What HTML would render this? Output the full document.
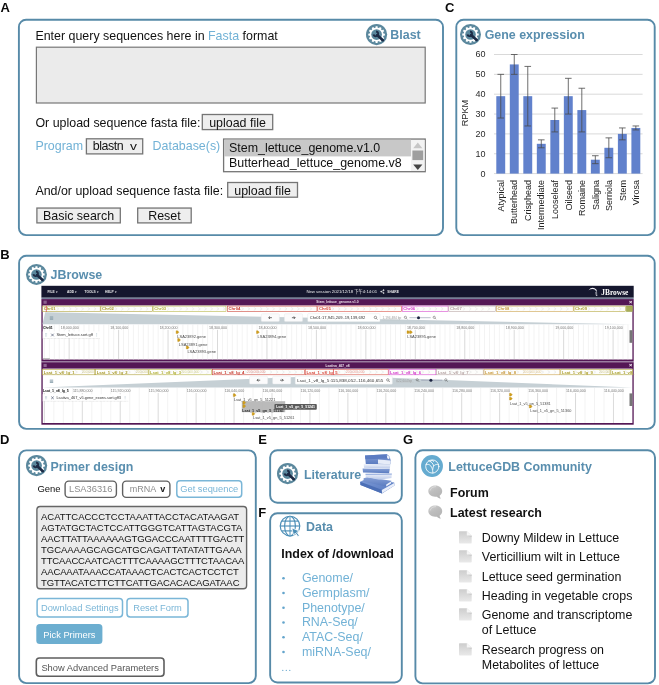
<!DOCTYPE html>
<html><head><meta charset="utf-8"><title>LettuceGDB</title>
<style>
html,body{margin:0;padding:0;background:#fff;}
body{filter:blur(0.35px);width:659px;height:685px;position:relative;overflow:hidden;font-family:"Liberation Sans",sans-serif;}
.t{position:absolute;white-space:nowrap;line-height:1;}
.b{position:absolute;}
.tw{position:absolute;left:0;top:0;width:659px;height:685px;will-change:transform;}
</style></head><body>
<svg class="b" style="left:0;top:0" width="659" height="685" viewBox="0 0 659 685">
<rect x="18.90" y="19.75" width="424.10" height="215.35" rx="7.2" fill="#fff" stroke="#578aa8" stroke-width="1.9"/>
<rect x="456.30" y="19.80" width="198.40" height="215.30" rx="7.2" fill="#fff" stroke="#578aa8" stroke-width="1.9"/>
<rect x="19.10" y="255.70" width="635.60" height="173.20" rx="7.2" fill="#fff" stroke="#578aa8" stroke-width="1.9"/>
<rect x="19.10" y="450.40" width="236.70" height="232.70" rx="7.2" fill="#fff" stroke="#578aa8" stroke-width="1.9"/>
<rect x="270.15" y="450.30" width="131.65" height="52.50" rx="7.2" fill="#fff" stroke="#578aa8" stroke-width="1.9"/>
<rect x="270.15" y="513.30" width="131.65" height="169.20" rx="7.2" fill="#fff" stroke="#578aa8" stroke-width="1.9"/>
<rect x="415.40" y="450.30" width="239.60" height="233.10" rx="7.2" fill="#fff" stroke="#578aa8" stroke-width="1.9"/>
<rect x="36.40" y="47.20" width="388.80" height="55.80" rx="0" fill="#ebebeb" stroke="#777" stroke-width="1.2" />
<rect x="202.30" y="114.50" width="70.40" height="15.10" rx="0" fill="#eeeeee" stroke="#757575" stroke-width="1.3" />
<rect x="86.40" y="138.80" width="56.30" height="15.10" rx="0" fill="#eeeeee" stroke="#757575" stroke-width="1.3" />
<rect x="223.60" y="139.05" width="201.60" height="32.65" rx="0" fill="#fff" stroke="#757575" stroke-width="1.3" />
<rect x="224.20" y="139.70" width="186.80" height="16.70" rx="0" fill="#c8c8c8" />
<rect x="227.70" y="182.50" width="69.80" height="14.70" rx="0" fill="#eeeeee" stroke="#757575" stroke-width="1.3" />
<rect x="36.90" y="208.05" width="83.40" height="14.85" rx="0" fill="#eeeeee" stroke="#757575" stroke-width="1.3" />
<rect x="137.70" y="208.05" width="53.50" height="14.85" rx="0" fill="#eeeeee" stroke="#757575" stroke-width="1.3" />
<line x1="494.0" y1="173.60" x2="642.6" y2="173.60" stroke="#cfcfcf" stroke-width="0.8"/>
<line x1="494.0" y1="153.75" x2="642.6" y2="153.75" stroke="#cfcfcf" stroke-width="0.8"/>
<line x1="494.0" y1="133.90" x2="642.6" y2="133.90" stroke="#cfcfcf" stroke-width="0.8"/>
<line x1="494.0" y1="114.05" x2="642.6" y2="114.05" stroke="#cfcfcf" stroke-width="0.8"/>
<line x1="494.0" y1="94.20" x2="642.6" y2="94.20" stroke="#cfcfcf" stroke-width="0.8"/>
<line x1="494.0" y1="74.35" x2="642.6" y2="74.35" stroke="#cfcfcf" stroke-width="0.8"/>
<line x1="494.0" y1="54.50" x2="642.6" y2="54.50" stroke="#cfcfcf" stroke-width="0.8"/>
<rect x="496.30" y="96.18" width="8.9" height="77.42" fill="#6181cc"/>
<rect x="509.81" y="64.42" width="8.9" height="109.18" fill="#6181cc"/>
<rect x="523.32" y="96.18" width="8.9" height="77.42" fill="#6181cc"/>
<rect x="536.83" y="143.82" width="8.9" height="29.78" fill="#6181cc"/>
<rect x="550.34" y="120.00" width="8.9" height="53.60" fill="#6181cc"/>
<rect x="563.85" y="96.18" width="8.9" height="77.42" fill="#6181cc"/>
<rect x="577.36" y="110.08" width="8.9" height="63.52" fill="#6181cc"/>
<rect x="590.87" y="159.70" width="8.9" height="13.90" fill="#6181cc"/>
<rect x="604.38" y="147.79" width="8.9" height="25.80" fill="#6181cc"/>
<rect x="617.89" y="133.90" width="8.9" height="39.70" fill="#6181cc"/>
<rect x="631.40" y="127.94" width="8.9" height="45.66" fill="#6181cc"/>
<path d="M500.75,118.02V74.35M497.45,118.02h6.6M497.45,74.35h6.6" stroke="#4a4a4a" stroke-width="0.8" fill="none"/>
<path d="M514.26,74.35V54.50M510.96,74.35h6.6M510.96,54.50h6.6" stroke="#4a4a4a" stroke-width="0.8" fill="none"/>
<path d="M527.77,125.96V66.41M524.47,125.96h6.6M524.47,66.41h6.6" stroke="#4a4a4a" stroke-width="0.8" fill="none"/>
<path d="M541.28,147.79V139.85M537.98,147.79h6.6M537.98,139.85h6.6" stroke="#4a4a4a" stroke-width="0.8" fill="none"/>
<path d="M554.79,131.91V108.09M551.49,131.91h6.6M551.49,108.09h6.6" stroke="#4a4a4a" stroke-width="0.8" fill="none"/>
<path d="M568.30,114.05V78.32M565.00,114.05h6.6M565.00,78.32h6.6" stroke="#4a4a4a" stroke-width="0.8" fill="none"/>
<path d="M581.81,131.91V88.24M578.51,131.91h6.6M578.51,88.24h6.6" stroke="#4a4a4a" stroke-width="0.8" fill="none"/>
<path d="M595.32,163.67V155.73M592.02,163.67h6.6M592.02,155.73h6.6" stroke="#4a4a4a" stroke-width="0.8" fill="none"/>
<path d="M608.83,157.72V137.87M605.53,157.72h6.6M605.53,137.87h6.6" stroke="#4a4a4a" stroke-width="0.8" fill="none"/>
<path d="M622.34,139.85V127.94M619.04,139.85h6.6M619.04,127.94h6.6" stroke="#4a4a4a" stroke-width="0.8" fill="none"/>
<path d="M635.85,129.93V125.96M632.55,129.93h6.6M632.55,125.96h6.6" stroke="#4a4a4a" stroke-width="0.8" fill="none"/>
<rect x="65.10" y="481.10" width="51.30" height="16.30" rx="3.6" fill="#fff" stroke="#606060" stroke-width="1.4" />
<rect x="122.60" y="481.10" width="47.30" height="16.30" rx="3.6" fill="#fff" stroke="#606060" stroke-width="1.4" />
<rect x="176.80" y="480.80" width="64.90" height="16.50" rx="3.2" fill="#fff" stroke="#7ab6d7" stroke-width="1.5" />
<rect x="36.90" y="506.50" width="209.70" height="82.30" rx="3.2" fill="#ebebeb" stroke="#666" stroke-width="1.4" />
<rect x="37.10" y="598.40" width="85.40" height="18.60" rx="3.2" fill="#fff" stroke="#7ab6d7" stroke-width="1.5" />
<rect x="127.00" y="598.40" width="61.00" height="18.60" rx="3.2" fill="#fff" stroke="#7ab6d7" stroke-width="1.5" />
<rect x="36.30" y="623.90" width="66.10" height="20.20" rx="3.6" fill="#6caed0" />
<rect x="36.30" y="658.00" width="127.70" height="18.20" rx="3.2" fill="#fff" stroke="#5e5e5e" stroke-width="1.6" />
<circle cx="283.5" cy="578.20" r="1.3" fill="#64a5cc"/>
<circle cx="283.5" cy="592.95" r="1.3" fill="#64a5cc"/>
<circle cx="283.5" cy="607.70" r="1.3" fill="#64a5cc"/>
<circle cx="283.5" cy="622.45" r="1.3" fill="#64a5cc"/>
<circle cx="283.5" cy="637.20" r="1.3" fill="#64a5cc"/>
<circle cx="283.5" cy="651.95" r="1.3" fill="#64a5cc"/>
<circle cx="282.80" cy="670.4" r="0.6" fill="#64a5cc"/>
<circle cx="286.30" cy="670.4" r="0.6" fill="#64a5cc"/>
<circle cx="289.80" cy="670.4" r="0.6" fill="#64a5cc"/>
</svg>
<div class="tw"><svg class="b" style="left:0;top:0" width="659" height="440" viewBox="0 0 659 440" font-family="Liberation Sans, sans-serif">
<rect x="41.4" y="285.8" width="592.3000000000001" height="138.8" fill="#fff"/>
<rect x="41.4" y="285.8" width="592.3000000000001" height="11.899999999999977" fill="#15172e"/>
<rect x="41.4" y="297.7" width="592.3000000000001" height="1.5" fill="#76819a"/>
<text x="47.5" y="292.9" font-size="3.3" fill="#fff" text-anchor="start" font-weight="bold" opacity="0.9">FILE ▾</text>
<text x="67" y="292.9" font-size="3.3" fill="#fff" text-anchor="start" font-weight="bold" opacity="0.9">ADD ▾</text>
<text x="84.5" y="292.9" font-size="3.3" fill="#fff" text-anchor="start" font-weight="bold" opacity="0.9">TOOLS ▾</text>
<text x="105" y="292.9" font-size="3.3" fill="#fff" text-anchor="start" font-weight="bold" opacity="0.9">HELP ▾</text>
<text x="306.4" y="292.9" font-size="4.2" fill="#fff" text-anchor="start" font-weight="normal" textLength="70.7" lengthAdjust="spacingAndGlyphs" opacity="0.92" font-family="Liberation Sans, Noto Sans CJK SC, sans-serif">New session 2021/12/18 下午4:14:01</text>
<g stroke="#fff" stroke-width="0.45" fill="#fff" opacity="0.9"><circle cx="383.6" cy="290.2" r="0.6"/><circle cx="381.2" cy="291.6" r="0.6"/><circle cx="383.6" cy="293" r="0.6"/><path d="M383.6,290.2L381.2,291.6L383.6,293" fill="none"/></g>
<text x="387.30" y="292.80" font-size="3.3" font-weight="bold" fill="#fff" opacity="0.9">SHARE</text>
<path d="M588.6,290.2 q2.4,-3.2 6,-2 q2.2,0.9 2.5,3.4 l-1.1,0 q-0.4,-1.8 -1.9,-2.3 q-2.6,-0.7 -5.5,0.9 z M595.2,292.4 h1.9 v0.75 h-1.9z M595.5,293.7 h1.7 v0.75 h-1.7z M595.9,295 h1.4 v0.7 h-1.4z" fill="#eeeef4"/>
<text x="601.3" y="294.5" font-size="7.4" fill="#fff" text-anchor="start" font-weight="bold" font-family="Liberation Serif, serif" textLength="27" lengthAdjust="spacingAndGlyphs" opacity="1">JBrowse</text>
<rect x="41.4" y="299.1" width="592.3000000000001" height="62.099999999999966" fill="#541755"/>
<rect x="42.699999999999996" y="305.40000000000003" width="589.7" height="54.099999999999966" fill="#fff"/>
<path d="M43.5,301.20000000000005h3.2M43.5,302.20000000000005h3.2M43.5,303.20000000000005h3.2" stroke="#bfa9c4" stroke-width="0.6"/>
<text x="316.37" y="303.40" font-size="3.3" font-weight="bold" fill="#e9dfe8">Stem_lettuce_genome.v1.0</text>
<text x="628.96" y="304.00" font-size="5.6" font-weight="bold" fill="#fff">×</text>
<rect x="42.6" y="306.1" width="57.6" height="5.5" fill="#fdfdfb" stroke="#a99b2c" stroke-width="0.55"/>
<path d="M56.6,307.3l2.2,1.55l-2.2,1.55" fill="none" stroke="#e2e2e2" stroke-width="0.6"/>
<path d="M62.8,307.3l2.2,1.55l-2.2,1.55" fill="none" stroke="#e2e2e2" stroke-width="0.6"/>
<path d="M69.0,307.3l2.2,1.55l-2.2,1.55" fill="none" stroke="#e2e2e2" stroke-width="0.6"/>
<path d="M75.2,307.3l2.2,1.55l-2.2,1.55" fill="none" stroke="#e2e2e2" stroke-width="0.6"/>
<path d="M81.4,307.3l2.2,1.55l-2.2,1.55" fill="none" stroke="#e2e2e2" stroke-width="0.6"/>
<path d="M87.6,307.3l2.2,1.55l-2.2,1.55" fill="none" stroke="#e2e2e2" stroke-width="0.6"/>
<path d="M93.8,307.3l2.2,1.55l-2.2,1.55" fill="none" stroke="#e2e2e2" stroke-width="0.6"/>
<text x="43.70" y="310.30" font-size="4.2" font-weight="bold" fill="#a99b2c">Chr01</text>
<rect x="100.9" y="306.1" width="51.5" height="5.5" fill="#fdfdfb" stroke="#a99b2c" stroke-width="0.55"/>
<path d="M114.9,307.3l2.2,1.55l-2.2,1.55" fill="none" stroke="#e2e2e2" stroke-width="0.6"/>
<path d="M121.1,307.3l2.2,1.55l-2.2,1.55" fill="none" stroke="#e2e2e2" stroke-width="0.6"/>
<path d="M127.3,307.3l2.2,1.55l-2.2,1.55" fill="none" stroke="#e2e2e2" stroke-width="0.6"/>
<path d="M133.5,307.3l2.2,1.55l-2.2,1.55" fill="none" stroke="#e2e2e2" stroke-width="0.6"/>
<path d="M139.7,307.3l2.2,1.55l-2.2,1.55" fill="none" stroke="#e2e2e2" stroke-width="0.6"/>
<path d="M145.9,307.3l2.2,1.55l-2.2,1.55" fill="none" stroke="#e2e2e2" stroke-width="0.6"/>
<text x="102.00" y="310.30" font-size="4.2" font-weight="bold" fill="#a99b2c">Chr02</text>
<rect x="153.1" y="306.1" width="72.9" height="5.5" fill="#fdfdfb" stroke="#b4b23c" stroke-width="0.55"/>
<path d="M167.1,307.3l2.2,1.55l-2.2,1.55" fill="none" stroke="#e2e2e2" stroke-width="0.6"/>
<path d="M173.3,307.3l2.2,1.55l-2.2,1.55" fill="none" stroke="#e2e2e2" stroke-width="0.6"/>
<path d="M179.5,307.3l2.2,1.55l-2.2,1.55" fill="none" stroke="#e2e2e2" stroke-width="0.6"/>
<path d="M185.7,307.3l2.2,1.55l-2.2,1.55" fill="none" stroke="#e2e2e2" stroke-width="0.6"/>
<path d="M191.9,307.3l2.2,1.55l-2.2,1.55" fill="none" stroke="#e2e2e2" stroke-width="0.6"/>
<path d="M198.1,307.3l2.2,1.55l-2.2,1.55" fill="none" stroke="#e2e2e2" stroke-width="0.6"/>
<path d="M204.3,307.3l2.2,1.55l-2.2,1.55" fill="none" stroke="#e2e2e2" stroke-width="0.6"/>
<path d="M210.5,307.3l2.2,1.55l-2.2,1.55" fill="none" stroke="#e2e2e2" stroke-width="0.6"/>
<path d="M216.7,307.3l2.2,1.55l-2.2,1.55" fill="none" stroke="#e2e2e2" stroke-width="0.6"/>
<path d="M222.9,307.3l2.2,1.55l-2.2,1.55" fill="none" stroke="#e2e2e2" stroke-width="0.6"/>
<text x="154.20" y="310.30" font-size="4.2" font-weight="bold" fill="#b4b23c">Chr03</text>
<rect x="227.4" y="306.1" width="89.6" height="5.5" fill="#fdfdfb" stroke="#c8372d" stroke-width="0.55"/>
<path d="M241.4,307.3l2.2,1.55l-2.2,1.55" fill="none" stroke="#e2e2e2" stroke-width="0.6"/>
<path d="M247.6,307.3l2.2,1.55l-2.2,1.55" fill="none" stroke="#e2e2e2" stroke-width="0.6"/>
<path d="M253.8,307.3l2.2,1.55l-2.2,1.55" fill="none" stroke="#e2e2e2" stroke-width="0.6"/>
<path d="M260.0,307.3l2.2,1.55l-2.2,1.55" fill="none" stroke="#e2e2e2" stroke-width="0.6"/>
<path d="M266.2,307.3l2.2,1.55l-2.2,1.55" fill="none" stroke="#e2e2e2" stroke-width="0.6"/>
<path d="M272.4,307.3l2.2,1.55l-2.2,1.55" fill="none" stroke="#e2e2e2" stroke-width="0.6"/>
<path d="M278.6,307.3l2.2,1.55l-2.2,1.55" fill="none" stroke="#e2e2e2" stroke-width="0.6"/>
<path d="M284.8,307.3l2.2,1.55l-2.2,1.55" fill="none" stroke="#e2e2e2" stroke-width="0.6"/>
<path d="M291.0,307.3l2.2,1.55l-2.2,1.55" fill="none" stroke="#e2e2e2" stroke-width="0.6"/>
<path d="M297.2,307.3l2.2,1.55l-2.2,1.55" fill="none" stroke="#e2e2e2" stroke-width="0.6"/>
<path d="M303.4,307.3l2.2,1.55l-2.2,1.55" fill="none" stroke="#e2e2e2" stroke-width="0.6"/>
<path d="M309.6,307.3l2.2,1.55l-2.2,1.55" fill="none" stroke="#e2e2e2" stroke-width="0.6"/>
<text x="228.50" y="310.30" font-size="4.2" font-weight="bold" fill="#c8372d">Chr04</text>
<rect x="317.8" y="306.1" width="83.59999999999997" height="5.5" fill="#fdfdfb" stroke="#d8483c" stroke-width="0.55"/>
<path d="M331.8,307.3l2.2,1.55l-2.2,1.55" fill="none" stroke="#e2e2e2" stroke-width="0.6"/>
<path d="M338.0,307.3l2.2,1.55l-2.2,1.55" fill="none" stroke="#e2e2e2" stroke-width="0.6"/>
<path d="M344.2,307.3l2.2,1.55l-2.2,1.55" fill="none" stroke="#e2e2e2" stroke-width="0.6"/>
<path d="M350.4,307.3l2.2,1.55l-2.2,1.55" fill="none" stroke="#e2e2e2" stroke-width="0.6"/>
<path d="M356.6,307.3l2.2,1.55l-2.2,1.55" fill="none" stroke="#e2e2e2" stroke-width="0.6"/>
<path d="M362.8,307.3l2.2,1.55l-2.2,1.55" fill="none" stroke="#e2e2e2" stroke-width="0.6"/>
<path d="M369.0,307.3l2.2,1.55l-2.2,1.55" fill="none" stroke="#e2e2e2" stroke-width="0.6"/>
<path d="M375.2,307.3l2.2,1.55l-2.2,1.55" fill="none" stroke="#e2e2e2" stroke-width="0.6"/>
<path d="M381.4,307.3l2.2,1.55l-2.2,1.55" fill="none" stroke="#e2e2e2" stroke-width="0.6"/>
<path d="M387.6,307.3l2.2,1.55l-2.2,1.55" fill="none" stroke="#e2e2e2" stroke-width="0.6"/>
<path d="M393.8,307.3l2.2,1.55l-2.2,1.55" fill="none" stroke="#e2e2e2" stroke-width="0.6"/>
<text x="318.90" y="310.30" font-size="4.2" font-weight="bold" fill="#d8483c">Chr05</text>
<rect x="402.2" y="306.1" width="45.900000000000034" height="5.5" fill="#fdfdfb" stroke="#d43ccc" stroke-width="0.55"/>
<path d="M416.2,307.3l2.2,1.55l-2.2,1.55" fill="none" stroke="#e2e2e2" stroke-width="0.6"/>
<path d="M422.4,307.3l2.2,1.55l-2.2,1.55" fill="none" stroke="#e2e2e2" stroke-width="0.6"/>
<path d="M428.6,307.3l2.2,1.55l-2.2,1.55" fill="none" stroke="#e2e2e2" stroke-width="0.6"/>
<path d="M434.8,307.3l2.2,1.55l-2.2,1.55" fill="none" stroke="#e2e2e2" stroke-width="0.6"/>
<path d="M441.0,307.3l2.2,1.55l-2.2,1.55" fill="none" stroke="#e2e2e2" stroke-width="0.6"/>
<text x="403.30" y="310.30" font-size="4.2" font-weight="bold" fill="#d43ccc">Chr06</text>
<rect x="448.8" y="306.1" width="46.80000000000001" height="5.5" fill="#fdfdfb" stroke="#b5a2a2" stroke-width="0.55"/>
<path d="M462.8,307.3l2.2,1.55l-2.2,1.55" fill="none" stroke="#e2e2e2" stroke-width="0.6"/>
<path d="M469.0,307.3l2.2,1.55l-2.2,1.55" fill="none" stroke="#e2e2e2" stroke-width="0.6"/>
<path d="M475.2,307.3l2.2,1.55l-2.2,1.55" fill="none" stroke="#e2e2e2" stroke-width="0.6"/>
<path d="M481.4,307.3l2.2,1.55l-2.2,1.55" fill="none" stroke="#e2e2e2" stroke-width="0.6"/>
<path d="M487.6,307.3l2.2,1.55l-2.2,1.55" fill="none" stroke="#e2e2e2" stroke-width="0.6"/>
<text x="449.90" y="310.30" font-size="4.2" font-weight="bold" fill="#b5a2a2">Chr07</text>
<rect x="496.4" y="306.1" width="76.80000000000007" height="5.5" fill="#fdfdfb" stroke="#c89a3e" stroke-width="0.55"/>
<path d="M510.4,307.3l2.2,1.55l-2.2,1.55" fill="none" stroke="#e2e2e2" stroke-width="0.6"/>
<path d="M516.6,307.3l2.2,1.55l-2.2,1.55" fill="none" stroke="#e2e2e2" stroke-width="0.6"/>
<path d="M522.8,307.3l2.2,1.55l-2.2,1.55" fill="none" stroke="#e2e2e2" stroke-width="0.6"/>
<path d="M529.0,307.3l2.2,1.55l-2.2,1.55" fill="none" stroke="#e2e2e2" stroke-width="0.6"/>
<path d="M535.2,307.3l2.2,1.55l-2.2,1.55" fill="none" stroke="#e2e2e2" stroke-width="0.6"/>
<path d="M541.4,307.3l2.2,1.55l-2.2,1.55" fill="none" stroke="#e2e2e2" stroke-width="0.6"/>
<path d="M547.6,307.3l2.2,1.55l-2.2,1.55" fill="none" stroke="#e2e2e2" stroke-width="0.6"/>
<path d="M553.8,307.3l2.2,1.55l-2.2,1.55" fill="none" stroke="#e2e2e2" stroke-width="0.6"/>
<path d="M560.0,307.3l2.2,1.55l-2.2,1.55" fill="none" stroke="#e2e2e2" stroke-width="0.6"/>
<path d="M566.2,307.3l2.2,1.55l-2.2,1.55" fill="none" stroke="#e2e2e2" stroke-width="0.6"/>
<text x="497.50" y="310.30" font-size="4.2" font-weight="bold" fill="#c89a3e">Chr08</text>
<rect x="574" y="306.1" width="51.60000000000002" height="5.5" fill="#fdfdfb" stroke="#b0a232" stroke-width="0.55"/>
<path d="M588.0,307.3l2.2,1.55l-2.2,1.55" fill="none" stroke="#e2e2e2" stroke-width="0.6"/>
<path d="M594.2,307.3l2.2,1.55l-2.2,1.55" fill="none" stroke="#e2e2e2" stroke-width="0.6"/>
<path d="M600.4,307.3l2.2,1.55l-2.2,1.55" fill="none" stroke="#e2e2e2" stroke-width="0.6"/>
<path d="M606.6,307.3l2.2,1.55l-2.2,1.55" fill="none" stroke="#e2e2e2" stroke-width="0.6"/>
<path d="M612.8,307.3l2.2,1.55l-2.2,1.55" fill="none" stroke="#e2e2e2" stroke-width="0.6"/>
<path d="M619.0,307.3l2.2,1.55l-2.2,1.55" fill="none" stroke="#e2e2e2" stroke-width="0.6"/>
<text x="575.10" y="310.30" font-size="4.2" font-weight="bold" fill="#b0a232">Chr09</text>
<polygon points="45.2,312.3 47.2,312.3 632.6,324.3 42.5,324.3" fill="#c6d0d5"/>
<path d="M49.8,316.90000000000003h3.4M49.8,318.1h3.4M49.8,319.3h3.4" stroke="#8199a6" stroke-width="0.8"/>
<rect x="626.4" y="306" width="6" height="5.5" fill="#a9ad58" stroke="#8f9a3a" stroke-width="0.5"/>
<rect x="45.9" y="305.8" width="0.6" height="6" fill="#d22"/>
<rect x="261.2" y="313.8" width="18.2" height="7.8" rx="1" fill="#fbfbfc" stroke="#e3e6e8" stroke-width="0.4"/>
<path d="M271.90000000000003,317.7h-3.2M270.0,316.4l-1.3,1.3l1.3,1.3" stroke="#333" stroke-width="0.7" fill="none"/>
<rect x="284.4" y="313.8" width="18.2" height="7.8" rx="1" fill="#fbfbfc" stroke="#e3e6e8" stroke-width="0.4"/>
<path d="M291.9,317.7h3.2M293.8,316.4l1.3,1.3l-1.3,1.3" stroke="#333" stroke-width="0.7" fill="none"/>
<rect x="307.7" y="313.7" width="72.30000000000001" height="8" rx="0.8" fill="#fff" stroke="#dfe3e6" stroke-width="0.4"/>
<text x="309.70" y="319.10" font-size="4.1" fill="#333">Chr01:17,945,209..19,139,692</text>
<circle cx="375.4" cy="317.4" r="1.2" fill="none" stroke="#444" stroke-width="0.5"/><path d="M376.2,318.3l1.2,1.2" stroke="#444" stroke-width="0.6"/>
<text x="382.60" y="319.10" font-size="3.2" fill="#9a9a9a">1,194,484 bp</text>
<path d="M382.6,319.8h17.5" stroke="#bbb" stroke-width="0.3"/>
<circle cx="405.4" cy="317.3" r="1.1" fill="none" stroke="#555" stroke-width="0.5"/><path d="M406.2,318.09999999999997l1.1,1.1" stroke="#555" stroke-width="0.55"/>
<circle cx="434.2" cy="317.3" r="1.1" fill="none" stroke="#555" stroke-width="0.5"/><path d="M435.0,318.09999999999997l1.1,1.1" stroke="#555" stroke-width="0.55"/>
<path d="M409.4,317.7H430.7" stroke="#8b93a8" stroke-width="0.6"/>
<circle cx="418.5" cy="317.7" r="1.5" fill="#1b2340"/>
<line x1="44.43" y1="324.6" x2="44.43" y2="359.6" stroke="#e7e7e7" stroke-width="0.5"/>
<line x1="49.37" y1="324.6" x2="49.37" y2="359.6" stroke="#e7e7e7" stroke-width="0.5"/>
<line x1="54.32" y1="324.6" x2="54.32" y2="359.6" stroke="#e7e7e7" stroke-width="0.5"/>
<line x1="59.26" y1="324.6" x2="59.26" y2="359.6" stroke="#e7e7e7" stroke-width="0.5"/>
<line x1="64.21" y1="324.6" x2="64.21" y2="359.6" stroke="#e7e7e7" stroke-width="0.5"/>
<line x1="69.15" y1="329.8" x2="69.15" y2="359.6" stroke="#b4b4b4" stroke-width="0.5"/>
<line x1="74.09" y1="324.6" x2="74.09" y2="359.6" stroke="#e7e7e7" stroke-width="0.5"/>
<line x1="79.04" y1="324.6" x2="79.04" y2="359.6" stroke="#e7e7e7" stroke-width="0.5"/>
<line x1="83.98" y1="324.6" x2="83.98" y2="359.6" stroke="#e7e7e7" stroke-width="0.5"/>
<line x1="88.93" y1="324.6" x2="88.93" y2="359.6" stroke="#e7e7e7" stroke-width="0.5"/>
<line x1="93.87" y1="324.6" x2="93.87" y2="359.6" stroke="#e7e7e7" stroke-width="0.5"/>
<line x1="98.82" y1="324.6" x2="98.82" y2="359.6" stroke="#e7e7e7" stroke-width="0.5"/>
<line x1="103.76" y1="324.6" x2="103.76" y2="359.6" stroke="#e7e7e7" stroke-width="0.5"/>
<line x1="108.71" y1="324.6" x2="108.71" y2="359.6" stroke="#e7e7e7" stroke-width="0.5"/>
<line x1="113.65" y1="324.6" x2="113.65" y2="359.6" stroke="#e7e7e7" stroke-width="0.5"/>
<line x1="118.60" y1="329.8" x2="118.60" y2="359.6" stroke="#b4b4b4" stroke-width="0.5"/>
<line x1="123.54" y1="324.6" x2="123.54" y2="359.6" stroke="#e7e7e7" stroke-width="0.5"/>
<line x1="128.49" y1="324.6" x2="128.49" y2="359.6" stroke="#e7e7e7" stroke-width="0.5"/>
<line x1="133.43" y1="324.6" x2="133.43" y2="359.6" stroke="#e7e7e7" stroke-width="0.5"/>
<line x1="138.38" y1="324.6" x2="138.38" y2="359.6" stroke="#e7e7e7" stroke-width="0.5"/>
<line x1="143.32" y1="324.6" x2="143.32" y2="359.6" stroke="#e7e7e7" stroke-width="0.5"/>
<line x1="148.27" y1="324.6" x2="148.27" y2="359.6" stroke="#e7e7e7" stroke-width="0.5"/>
<line x1="153.21" y1="324.6" x2="153.21" y2="359.6" stroke="#e7e7e7" stroke-width="0.5"/>
<line x1="158.16" y1="324.6" x2="158.16" y2="359.6" stroke="#e7e7e7" stroke-width="0.5"/>
<line x1="163.10" y1="324.6" x2="163.10" y2="359.6" stroke="#e7e7e7" stroke-width="0.5"/>
<line x1="168.05" y1="329.8" x2="168.05" y2="359.6" stroke="#b4b4b4" stroke-width="0.5"/>
<line x1="172.99" y1="324.6" x2="172.99" y2="359.6" stroke="#e7e7e7" stroke-width="0.5"/>
<line x1="177.94" y1="324.6" x2="177.94" y2="359.6" stroke="#e7e7e7" stroke-width="0.5"/>
<line x1="182.88" y1="324.6" x2="182.88" y2="359.6" stroke="#e7e7e7" stroke-width="0.5"/>
<line x1="187.83" y1="324.6" x2="187.83" y2="359.6" stroke="#e7e7e7" stroke-width="0.5"/>
<line x1="192.77" y1="324.6" x2="192.77" y2="359.6" stroke="#e7e7e7" stroke-width="0.5"/>
<line x1="197.72" y1="324.6" x2="197.72" y2="359.6" stroke="#e7e7e7" stroke-width="0.5"/>
<line x1="202.66" y1="324.6" x2="202.66" y2="359.6" stroke="#e7e7e7" stroke-width="0.5"/>
<line x1="207.61" y1="324.6" x2="207.61" y2="359.6" stroke="#e7e7e7" stroke-width="0.5"/>
<line x1="212.55" y1="324.6" x2="212.55" y2="359.6" stroke="#e7e7e7" stroke-width="0.5"/>
<line x1="217.50" y1="329.8" x2="217.50" y2="359.6" stroke="#b4b4b4" stroke-width="0.5"/>
<line x1="222.44" y1="324.6" x2="222.44" y2="359.6" stroke="#e7e7e7" stroke-width="0.5"/>
<line x1="227.39" y1="324.6" x2="227.39" y2="359.6" stroke="#e7e7e7" stroke-width="0.5"/>
<line x1="232.33" y1="324.6" x2="232.33" y2="359.6" stroke="#e7e7e7" stroke-width="0.5"/>
<line x1="237.28" y1="324.6" x2="237.28" y2="359.6" stroke="#e7e7e7" stroke-width="0.5"/>
<line x1="242.22" y1="324.6" x2="242.22" y2="359.6" stroke="#e7e7e7" stroke-width="0.5"/>
<line x1="247.17" y1="324.6" x2="247.17" y2="359.6" stroke="#e7e7e7" stroke-width="0.5"/>
<line x1="252.11" y1="324.6" x2="252.11" y2="359.6" stroke="#e7e7e7" stroke-width="0.5"/>
<line x1="257.06" y1="324.6" x2="257.06" y2="359.6" stroke="#e7e7e7" stroke-width="0.5"/>
<line x1="262.00" y1="324.6" x2="262.00" y2="359.6" stroke="#e7e7e7" stroke-width="0.5"/>
<line x1="266.95" y1="329.8" x2="266.95" y2="359.6" stroke="#b4b4b4" stroke-width="0.5"/>
<line x1="271.89" y1="324.6" x2="271.89" y2="359.6" stroke="#e7e7e7" stroke-width="0.5"/>
<line x1="276.84" y1="324.6" x2="276.84" y2="359.6" stroke="#e7e7e7" stroke-width="0.5"/>
<line x1="281.78" y1="324.6" x2="281.78" y2="359.6" stroke="#e7e7e7" stroke-width="0.5"/>
<line x1="286.73" y1="324.6" x2="286.73" y2="359.6" stroke="#e7e7e7" stroke-width="0.5"/>
<line x1="291.67" y1="324.6" x2="291.67" y2="359.6" stroke="#e7e7e7" stroke-width="0.5"/>
<line x1="296.62" y1="324.6" x2="296.62" y2="359.6" stroke="#e7e7e7" stroke-width="0.5"/>
<line x1="301.56" y1="324.6" x2="301.56" y2="359.6" stroke="#e7e7e7" stroke-width="0.5"/>
<line x1="306.51" y1="324.6" x2="306.51" y2="359.6" stroke="#e7e7e7" stroke-width="0.5"/>
<line x1="311.45" y1="324.6" x2="311.45" y2="359.6" stroke="#e7e7e7" stroke-width="0.5"/>
<line x1="316.40" y1="329.8" x2="316.40" y2="359.6" stroke="#b4b4b4" stroke-width="0.5"/>
<line x1="321.34" y1="324.6" x2="321.34" y2="359.6" stroke="#e7e7e7" stroke-width="0.5"/>
<line x1="326.29" y1="324.6" x2="326.29" y2="359.6" stroke="#e7e7e7" stroke-width="0.5"/>
<line x1="331.23" y1="324.6" x2="331.23" y2="359.6" stroke="#e7e7e7" stroke-width="0.5"/>
<line x1="336.18" y1="324.6" x2="336.18" y2="359.6" stroke="#e7e7e7" stroke-width="0.5"/>
<line x1="341.12" y1="324.6" x2="341.12" y2="359.6" stroke="#e7e7e7" stroke-width="0.5"/>
<line x1="346.07" y1="324.6" x2="346.07" y2="359.6" stroke="#e7e7e7" stroke-width="0.5"/>
<line x1="351.01" y1="324.6" x2="351.01" y2="359.6" stroke="#e7e7e7" stroke-width="0.5"/>
<line x1="355.96" y1="324.6" x2="355.96" y2="359.6" stroke="#e7e7e7" stroke-width="0.5"/>
<line x1="360.90" y1="324.6" x2="360.90" y2="359.6" stroke="#e7e7e7" stroke-width="0.5"/>
<line x1="365.85" y1="329.8" x2="365.85" y2="359.6" stroke="#b4b4b4" stroke-width="0.5"/>
<line x1="370.79" y1="324.6" x2="370.79" y2="359.6" stroke="#e7e7e7" stroke-width="0.5"/>
<line x1="375.74" y1="324.6" x2="375.74" y2="359.6" stroke="#e7e7e7" stroke-width="0.5"/>
<line x1="380.68" y1="324.6" x2="380.68" y2="359.6" stroke="#e7e7e7" stroke-width="0.5"/>
<line x1="385.63" y1="324.6" x2="385.63" y2="359.6" stroke="#e7e7e7" stroke-width="0.5"/>
<line x1="390.57" y1="324.6" x2="390.57" y2="359.6" stroke="#e7e7e7" stroke-width="0.5"/>
<line x1="395.52" y1="324.6" x2="395.52" y2="359.6" stroke="#e7e7e7" stroke-width="0.5"/>
<line x1="400.46" y1="324.6" x2="400.46" y2="359.6" stroke="#e7e7e7" stroke-width="0.5"/>
<line x1="405.41" y1="324.6" x2="405.41" y2="359.6" stroke="#e7e7e7" stroke-width="0.5"/>
<line x1="410.35" y1="324.6" x2="410.35" y2="359.6" stroke="#e7e7e7" stroke-width="0.5"/>
<line x1="415.30" y1="329.8" x2="415.30" y2="359.6" stroke="#b4b4b4" stroke-width="0.5"/>
<line x1="420.24" y1="324.6" x2="420.24" y2="359.6" stroke="#e7e7e7" stroke-width="0.5"/>
<line x1="425.19" y1="324.6" x2="425.19" y2="359.6" stroke="#e7e7e7" stroke-width="0.5"/>
<line x1="430.13" y1="324.6" x2="430.13" y2="359.6" stroke="#e7e7e7" stroke-width="0.5"/>
<line x1="435.08" y1="324.6" x2="435.08" y2="359.6" stroke="#e7e7e7" stroke-width="0.5"/>
<line x1="440.02" y1="324.6" x2="440.02" y2="359.6" stroke="#e7e7e7" stroke-width="0.5"/>
<line x1="444.97" y1="324.6" x2="444.97" y2="359.6" stroke="#e7e7e7" stroke-width="0.5"/>
<line x1="449.91" y1="324.6" x2="449.91" y2="359.6" stroke="#e7e7e7" stroke-width="0.5"/>
<line x1="454.86" y1="324.6" x2="454.86" y2="359.6" stroke="#e7e7e7" stroke-width="0.5"/>
<line x1="459.80" y1="324.6" x2="459.80" y2="359.6" stroke="#e7e7e7" stroke-width="0.5"/>
<line x1="464.75" y1="329.8" x2="464.75" y2="359.6" stroke="#b4b4b4" stroke-width="0.5"/>
<line x1="469.69" y1="324.6" x2="469.69" y2="359.6" stroke="#e7e7e7" stroke-width="0.5"/>
<line x1="474.64" y1="324.6" x2="474.64" y2="359.6" stroke="#e7e7e7" stroke-width="0.5"/>
<line x1="479.58" y1="324.6" x2="479.58" y2="359.6" stroke="#e7e7e7" stroke-width="0.5"/>
<line x1="484.53" y1="324.6" x2="484.53" y2="359.6" stroke="#e7e7e7" stroke-width="0.5"/>
<line x1="489.47" y1="324.6" x2="489.47" y2="359.6" stroke="#e7e7e7" stroke-width="0.5"/>
<line x1="494.42" y1="324.6" x2="494.42" y2="359.6" stroke="#e7e7e7" stroke-width="0.5"/>
<line x1="499.36" y1="324.6" x2="499.36" y2="359.6" stroke="#e7e7e7" stroke-width="0.5"/>
<line x1="504.31" y1="324.6" x2="504.31" y2="359.6" stroke="#e7e7e7" stroke-width="0.5"/>
<line x1="509.25" y1="324.6" x2="509.25" y2="359.6" stroke="#e7e7e7" stroke-width="0.5"/>
<line x1="514.20" y1="329.8" x2="514.20" y2="359.6" stroke="#b4b4b4" stroke-width="0.5"/>
<line x1="519.14" y1="324.6" x2="519.14" y2="359.6" stroke="#e7e7e7" stroke-width="0.5"/>
<line x1="524.09" y1="324.6" x2="524.09" y2="359.6" stroke="#e7e7e7" stroke-width="0.5"/>
<line x1="529.03" y1="324.6" x2="529.03" y2="359.6" stroke="#e7e7e7" stroke-width="0.5"/>
<line x1="533.98" y1="324.6" x2="533.98" y2="359.6" stroke="#e7e7e7" stroke-width="0.5"/>
<line x1="538.92" y1="324.6" x2="538.92" y2="359.6" stroke="#e7e7e7" stroke-width="0.5"/>
<line x1="543.87" y1="324.6" x2="543.87" y2="359.6" stroke="#e7e7e7" stroke-width="0.5"/>
<line x1="548.81" y1="324.6" x2="548.81" y2="359.6" stroke="#e7e7e7" stroke-width="0.5"/>
<line x1="553.76" y1="324.6" x2="553.76" y2="359.6" stroke="#e7e7e7" stroke-width="0.5"/>
<line x1="558.70" y1="324.6" x2="558.70" y2="359.6" stroke="#e7e7e7" stroke-width="0.5"/>
<line x1="563.65" y1="329.8" x2="563.65" y2="359.6" stroke="#b4b4b4" stroke-width="0.5"/>
<line x1="568.60" y1="324.6" x2="568.60" y2="359.6" stroke="#e7e7e7" stroke-width="0.5"/>
<line x1="573.54" y1="324.6" x2="573.54" y2="359.6" stroke="#e7e7e7" stroke-width="0.5"/>
<line x1="578.49" y1="324.6" x2="578.49" y2="359.6" stroke="#e7e7e7" stroke-width="0.5"/>
<line x1="583.43" y1="324.6" x2="583.43" y2="359.6" stroke="#e7e7e7" stroke-width="0.5"/>
<line x1="588.38" y1="324.6" x2="588.38" y2="359.6" stroke="#e7e7e7" stroke-width="0.5"/>
<line x1="593.32" y1="324.6" x2="593.32" y2="359.6" stroke="#e7e7e7" stroke-width="0.5"/>
<line x1="598.27" y1="324.6" x2="598.27" y2="359.6" stroke="#e7e7e7" stroke-width="0.5"/>
<line x1="603.21" y1="324.6" x2="603.21" y2="359.6" stroke="#e7e7e7" stroke-width="0.5"/>
<line x1="608.16" y1="324.6" x2="608.16" y2="359.6" stroke="#e7e7e7" stroke-width="0.5"/>
<line x1="613.10" y1="329.8" x2="613.10" y2="359.6" stroke="#b4b4b4" stroke-width="0.5"/>
<line x1="618.05" y1="324.6" x2="618.05" y2="359.6" stroke="#e7e7e7" stroke-width="0.5"/>
<line x1="622.99" y1="324.6" x2="622.99" y2="359.6" stroke="#e7e7e7" stroke-width="0.5"/>
<line x1="627.94" y1="324.6" x2="627.94" y2="359.6" stroke="#e7e7e7" stroke-width="0.5"/>
<text x="60.74" y="329.00" font-size="3.6" fill="#777">18,000,000</text>
<text x="110.19" y="329.00" font-size="3.6" fill="#777">18,100,000</text>
<text x="159.64" y="329.00" font-size="3.6" fill="#777">18,200,000</text>
<text x="209.09" y="329.00" font-size="3.6" fill="#777">18,300,000</text>
<text x="258.54" y="329.00" font-size="3.6" fill="#777">18,400,000</text>
<text x="307.99" y="329.00" font-size="3.6" fill="#777">18,500,000</text>
<text x="357.44" y="329.00" font-size="3.6" fill="#777">18,600,000</text>
<text x="406.89" y="329.00" font-size="3.6" fill="#777">18,700,000</text>
<text x="456.34" y="329.00" font-size="3.6" fill="#777">18,800,000</text>
<text x="505.79" y="329.00" font-size="3.6" fill="#777">18,900,000</text>
<text x="555.24" y="329.00" font-size="3.6" fill="#777">19,000,000</text>
<text x="604.69" y="329.00" font-size="3.6" fill="#777">19,100,000</text>
<text x="42.90" y="329.00" font-size="3.5" font-weight="bold" fill="#111">Chr01</text>
<rect x="629.5" y="330.20000000000005" width="2.9" height="12.6" fill="#767676"/>
<rect x="42.699999999999996" y="331.4" width="57.4" height="7" fill="#fff" opacity="0.93"/>
<path d="M45.5,333.3v3.4M46.6,333.3v3.4" stroke="#9db3bf" stroke-width="0.6" stroke-dasharray="0.7,0.5"/>
<path d="M51.2,333.7l2.6,2.6M51.2,336.3l2.6,-2.6" stroke="#3a4560" stroke-width="0.6"/>
<text x="56.40" y="336.30" font-size="3.9" fill="#333" textLength="36.4" lengthAdjust="spacingAndGlyphs">Stem_lettuce.sort.gff</text>
<path d="M96.6,333.3v3.4" stroke="#9db3bf" stroke-width="0.6" stroke-dasharray="0.7,0.5"/>
<path d="M42.699999999999996,338.5H99.8" stroke="#c4c4c4" stroke-width="0.45" stroke-dasharray="0.8,0.6"/>
<path d="M176.10,330.80h1.5l1.3,1.4l-1.3,1.4h-1.5z" fill="#cf9f1e" stroke="#c08c14" stroke-width="0.35" stroke-linejoin="round"/>
<text x="177.30" y="337.60" font-size="4" fill="#4a4a4a">LSA23892.gene</text>
<path d="M177.70,338.60h1.5l1.3,1.4l-1.3,1.4h-1.5z" fill="#cf9f1e" stroke="#c08c14" stroke-width="0.35" stroke-linejoin="round"/>
<text x="178.80" y="345.50" font-size="4" fill="#4a4a4a">LSA23891.gene</text>
<path d="M186.30,346.10h1.5l1.3,1.4l-1.3,1.4h-1.5z" fill="#cf9f1e" stroke="#c08c14" stroke-width="0.35" stroke-linejoin="round"/>
<text x="187.40" y="353.10" font-size="4" fill="#4a4a4a">LSA23893.gene</text>
<path d="M256.50,330.80h1.5l1.3,1.4l-1.3,1.4h-1.5z" fill="#cf9f1e" stroke="#c08c14" stroke-width="0.35" stroke-linejoin="round"/>
<text x="257.60" y="337.60" font-size="4" fill="#4a4a4a">LSA23894.gene</text>
<path d="M407.00,330.80h1.5l1.3,1.4l-1.3,1.4h-1.5z" fill="#cf9f1e" stroke="#c08c14" stroke-width="0.35" stroke-linejoin="round"/>
<path d="M409.60,330.80h1.5l1.3,1.4l-1.3,1.4h-1.5z" fill="#cf9f1e" stroke="#c08c14" stroke-width="0.35" stroke-linejoin="round"/>
<text x="407.20" y="337.60" font-size="4" fill="#4a4a4a">LSA23895.gene</text>
<path d="M42.8,358.6h7" stroke="#777" stroke-width="0.5"/>
<rect x="41.4" y="361" width="592.3000000000001" height="1.5" fill="#9a7da0"/>
<rect x="41.4" y="362.3" width="592.3000000000001" height="62.39999999999998" fill="#541755"/>
<rect x="42.699999999999996" y="368.6" width="589.7" height="54.39999999999998" fill="#fff"/>
<path d="M43.5,364.40000000000003h3.2M43.5,365.40000000000003h3.2M43.5,366.40000000000003h3.2" stroke="#bfa9c4" stroke-width="0.6"/>
<text x="325.44" y="366.60" font-size="3.3" font-weight="bold" fill="#e9dfe8">Lsativa_467_v8</text>
<text x="628.96" y="367.20" font-size="5.6" font-weight="bold" fill="#fff">×</text>
<rect x="42.6" y="369.3" width="52.199999999999996" height="5.5" fill="#fdfdfb" stroke="#a99b2c" stroke-width="0.55"/>
<path d="M56.6,370.5l2.2,1.55l-2.2,1.55" fill="none" stroke="#e2e2e2" stroke-width="0.6"/>
<path d="M62.8,370.5l2.2,1.55l-2.2,1.55" fill="none" stroke="#e2e2e2" stroke-width="0.6"/>
<path d="M69.0,370.5l2.2,1.55l-2.2,1.55" fill="none" stroke="#e2e2e2" stroke-width="0.6"/>
<path d="M75.2,370.5l2.2,1.55l-2.2,1.55" fill="none" stroke="#e2e2e2" stroke-width="0.6"/>
<path d="M81.4,370.5l2.2,1.55l-2.2,1.55" fill="none" stroke="#e2e2e2" stroke-width="0.6"/>
<path d="M87.6,370.5l2.2,1.55l-2.2,1.55" fill="none" stroke="#e2e2e2" stroke-width="0.6"/>
<text x="43.70" y="373.50" font-size="4.2" font-weight="bold" fill="#a99b2c">Lsat_1_v8_lg_1</text>
<text x="82.00" y="373.40" font-size="3.3" fill="#a99b2c" opacity="0.55">200,000</text>
<rect x="95.6" y="369.3" width="52.599999999999994" height="5.5" fill="#fdfdfb" stroke="#a99b2c" stroke-width="0.55"/>
<path d="M109.6,370.5l2.2,1.55l-2.2,1.55" fill="none" stroke="#e2e2e2" stroke-width="0.6"/>
<path d="M115.8,370.5l2.2,1.55l-2.2,1.55" fill="none" stroke="#e2e2e2" stroke-width="0.6"/>
<path d="M122.0,370.5l2.2,1.55l-2.2,1.55" fill="none" stroke="#e2e2e2" stroke-width="0.6"/>
<path d="M128.2,370.5l2.2,1.55l-2.2,1.55" fill="none" stroke="#e2e2e2" stroke-width="0.6"/>
<path d="M134.4,370.5l2.2,1.55l-2.2,1.55" fill="none" stroke="#e2e2e2" stroke-width="0.6"/>
<path d="M140.6,370.5l2.2,1.55l-2.2,1.55" fill="none" stroke="#e2e2e2" stroke-width="0.6"/>
<text x="96.70" y="373.50" font-size="4.2" font-weight="bold" fill="#a99b2c">Lsat_1_v8_lg_2</text>
<text x="136.00" y="373.40" font-size="3.3" fill="#a99b2c" opacity="0.55">200,000</text>
<rect x="149" y="369.3" width="62.400000000000006" height="5.5" fill="#fdfdfb" stroke="#b4b23c" stroke-width="0.55"/>
<path d="M163.0,370.5l2.2,1.55l-2.2,1.55" fill="none" stroke="#e2e2e2" stroke-width="0.6"/>
<path d="M169.2,370.5l2.2,1.55l-2.2,1.55" fill="none" stroke="#e2e2e2" stroke-width="0.6"/>
<path d="M175.4,370.5l2.2,1.55l-2.2,1.55" fill="none" stroke="#e2e2e2" stroke-width="0.6"/>
<path d="M181.6,370.5l2.2,1.55l-2.2,1.55" fill="none" stroke="#e2e2e2" stroke-width="0.6"/>
<path d="M187.8,370.5l2.2,1.55l-2.2,1.55" fill="none" stroke="#e2e2e2" stroke-width="0.6"/>
<path d="M194.0,370.5l2.2,1.55l-2.2,1.55" fill="none" stroke="#e2e2e2" stroke-width="0.6"/>
<path d="M200.2,370.5l2.2,1.55l-2.2,1.55" fill="none" stroke="#e2e2e2" stroke-width="0.6"/>
<path d="M206.4,370.5l2.2,1.55l-2.2,1.55" fill="none" stroke="#e2e2e2" stroke-width="0.6"/>
<text x="150.10" y="373.50" font-size="4.2" font-weight="bold" fill="#b4b23c">Lsat_1_v8_lg_3</text>
<text x="181.00" y="373.40" font-size="3.3" fill="#b4b23c" opacity="0.55">200,000,000</text>
<rect x="212.3" y="369.3" width="92.30000000000001" height="5.5" fill="#fdfdfb" stroke="#c8372d" stroke-width="0.55"/>
<path d="M226.3,370.5l2.2,1.55l-2.2,1.55" fill="none" stroke="#e2e2e2" stroke-width="0.6"/>
<path d="M232.5,370.5l2.2,1.55l-2.2,1.55" fill="none" stroke="#e2e2e2" stroke-width="0.6"/>
<path d="M238.7,370.5l2.2,1.55l-2.2,1.55" fill="none" stroke="#e2e2e2" stroke-width="0.6"/>
<path d="M244.9,370.5l2.2,1.55l-2.2,1.55" fill="none" stroke="#e2e2e2" stroke-width="0.6"/>
<path d="M251.1,370.5l2.2,1.55l-2.2,1.55" fill="none" stroke="#e2e2e2" stroke-width="0.6"/>
<path d="M257.3,370.5l2.2,1.55l-2.2,1.55" fill="none" stroke="#e2e2e2" stroke-width="0.6"/>
<path d="M263.5,370.5l2.2,1.55l-2.2,1.55" fill="none" stroke="#e2e2e2" stroke-width="0.6"/>
<path d="M269.7,370.5l2.2,1.55l-2.2,1.55" fill="none" stroke="#e2e2e2" stroke-width="0.6"/>
<path d="M275.9,370.5l2.2,1.55l-2.2,1.55" fill="none" stroke="#e2e2e2" stroke-width="0.6"/>
<path d="M282.1,370.5l2.2,1.55l-2.2,1.55" fill="none" stroke="#e2e2e2" stroke-width="0.6"/>
<path d="M288.3,370.5l2.2,1.55l-2.2,1.55" fill="none" stroke="#e2e2e2" stroke-width="0.6"/>
<path d="M294.5,370.5l2.2,1.55l-2.2,1.55" fill="none" stroke="#e2e2e2" stroke-width="0.6"/>
<path d="M300.7,370.5l2.2,1.55l-2.2,1.55" fill="none" stroke="#e2e2e2" stroke-width="0.6"/>
<text x="213.40" y="373.50" font-size="4.2" font-weight="bold" fill="#c8372d">Lsat_1_v8_lg_4</text>
<text x="247.00" y="373.40" font-size="3.3" fill="#c8372d" opacity="0.55">200,000,000</text>
<rect x="305.4" y="369.3" width="82.80000000000001" height="5.5" fill="#fdfdfb" stroke="#d8483c" stroke-width="0.55"/>
<path d="M319.4,370.5l2.2,1.55l-2.2,1.55" fill="none" stroke="#e2e2e2" stroke-width="0.6"/>
<path d="M325.6,370.5l2.2,1.55l-2.2,1.55" fill="none" stroke="#e2e2e2" stroke-width="0.6"/>
<path d="M331.8,370.5l2.2,1.55l-2.2,1.55" fill="none" stroke="#e2e2e2" stroke-width="0.6"/>
<path d="M338.0,370.5l2.2,1.55l-2.2,1.55" fill="none" stroke="#e2e2e2" stroke-width="0.6"/>
<path d="M344.2,370.5l2.2,1.55l-2.2,1.55" fill="none" stroke="#e2e2e2" stroke-width="0.6"/>
<path d="M350.4,370.5l2.2,1.55l-2.2,1.55" fill="none" stroke="#e2e2e2" stroke-width="0.6"/>
<path d="M356.6,370.5l2.2,1.55l-2.2,1.55" fill="none" stroke="#e2e2e2" stroke-width="0.6"/>
<path d="M362.8,370.5l2.2,1.55l-2.2,1.55" fill="none" stroke="#e2e2e2" stroke-width="0.6"/>
<path d="M369.0,370.5l2.2,1.55l-2.2,1.55" fill="none" stroke="#e2e2e2" stroke-width="0.6"/>
<path d="M375.2,370.5l2.2,1.55l-2.2,1.55" fill="none" stroke="#e2e2e2" stroke-width="0.6"/>
<path d="M381.4,370.5l2.2,1.55l-2.2,1.55" fill="none" stroke="#e2e2e2" stroke-width="0.6"/>
<text x="306.50" y="373.50" font-size="4.2" font-weight="bold" fill="#d8483c">Lsat_1_v8_lg_5</text>
<text x="346.00" y="373.40" font-size="3.3" fill="#d8483c" opacity="0.55">200,000,000</text>
<rect x="389" y="369.3" width="46.89999999999998" height="5.5" fill="#fdfdfb" stroke="#d43ccc" stroke-width="0.55"/>
<path d="M403.0,370.5l2.2,1.55l-2.2,1.55" fill="none" stroke="#e2e2e2" stroke-width="0.6"/>
<path d="M409.2,370.5l2.2,1.55l-2.2,1.55" fill="none" stroke="#e2e2e2" stroke-width="0.6"/>
<path d="M415.4,370.5l2.2,1.55l-2.2,1.55" fill="none" stroke="#e2e2e2" stroke-width="0.6"/>
<path d="M421.6,370.5l2.2,1.55l-2.2,1.55" fill="none" stroke="#e2e2e2" stroke-width="0.6"/>
<path d="M427.8,370.5l2.2,1.55l-2.2,1.55" fill="none" stroke="#e2e2e2" stroke-width="0.6"/>
<text x="390.10" y="373.50" font-size="4.2" font-weight="bold" fill="#d43ccc">Lsat_1_v8_lg_6</text>
<rect x="436.6" y="369.3" width="46.599999999999966" height="5.5" fill="#fdfdfb" stroke="#b5a2a2" stroke-width="0.55"/>
<path d="M450.6,370.5l2.2,1.55l-2.2,1.55" fill="none" stroke="#e2e2e2" stroke-width="0.6"/>
<path d="M456.8,370.5l2.2,1.55l-2.2,1.55" fill="none" stroke="#e2e2e2" stroke-width="0.6"/>
<path d="M463.0,370.5l2.2,1.55l-2.2,1.55" fill="none" stroke="#e2e2e2" stroke-width="0.6"/>
<path d="M469.2,370.5l2.2,1.55l-2.2,1.55" fill="none" stroke="#e2e2e2" stroke-width="0.6"/>
<path d="M475.4,370.5l2.2,1.55l-2.2,1.55" fill="none" stroke="#e2e2e2" stroke-width="0.6"/>
<text x="437.70" y="373.50" font-size="4.2" font-weight="bold" fill="#b5a2a2">Lsat_1_v8_lg_7</text>
<rect x="484" y="369.3" width="75.89999999999998" height="5.5" fill="#fdfdfb" stroke="#c89a3e" stroke-width="0.55"/>
<path d="M498.0,370.5l2.2,1.55l-2.2,1.55" fill="none" stroke="#e2e2e2" stroke-width="0.6"/>
<path d="M504.2,370.5l2.2,1.55l-2.2,1.55" fill="none" stroke="#e2e2e2" stroke-width="0.6"/>
<path d="M510.4,370.5l2.2,1.55l-2.2,1.55" fill="none" stroke="#e2e2e2" stroke-width="0.6"/>
<path d="M516.6,370.5l2.2,1.55l-2.2,1.55" fill="none" stroke="#e2e2e2" stroke-width="0.6"/>
<path d="M522.8,370.5l2.2,1.55l-2.2,1.55" fill="none" stroke="#e2e2e2" stroke-width="0.6"/>
<path d="M529.0,370.5l2.2,1.55l-2.2,1.55" fill="none" stroke="#e2e2e2" stroke-width="0.6"/>
<path d="M535.2,370.5l2.2,1.55l-2.2,1.55" fill="none" stroke="#e2e2e2" stroke-width="0.6"/>
<path d="M541.4,370.5l2.2,1.55l-2.2,1.55" fill="none" stroke="#e2e2e2" stroke-width="0.6"/>
<path d="M547.6,370.5l2.2,1.55l-2.2,1.55" fill="none" stroke="#e2e2e2" stroke-width="0.6"/>
<path d="M553.8,370.5l2.2,1.55l-2.2,1.55" fill="none" stroke="#e2e2e2" stroke-width="0.6"/>
<text x="485.10" y="373.50" font-size="4.2" font-weight="bold" fill="#c89a3e">Lsat_1_v8_lg_8</text>
<text x="523.00" y="373.40" font-size="3.3" fill="#c89a3e" opacity="0.55">200,000,000</text>
<rect x="560.8" y="369.3" width="49.200000000000045" height="5.5" fill="#fdfdfb" stroke="#b0a232" stroke-width="0.55"/>
<path d="M574.8,370.5l2.2,1.55l-2.2,1.55" fill="none" stroke="#e2e2e2" stroke-width="0.6"/>
<path d="M581.0,370.5l2.2,1.55l-2.2,1.55" fill="none" stroke="#e2e2e2" stroke-width="0.6"/>
<path d="M587.2,370.5l2.2,1.55l-2.2,1.55" fill="none" stroke="#e2e2e2" stroke-width="0.6"/>
<path d="M593.4,370.5l2.2,1.55l-2.2,1.55" fill="none" stroke="#e2e2e2" stroke-width="0.6"/>
<path d="M599.6,370.5l2.2,1.55l-2.2,1.55" fill="none" stroke="#e2e2e2" stroke-width="0.6"/>
<path d="M605.8,370.5l2.2,1.55l-2.2,1.55" fill="none" stroke="#e2e2e2" stroke-width="0.6"/>
<text x="561.90" y="373.50" font-size="4.2" font-weight="bold" fill="#b0a232">Lsat_1_v8_lg_9</text>
<text x="599.00" y="373.40" font-size="3.3" fill="#b0a232" opacity="0.55">200,00</text>
<rect x="610.9" y="369.3" width="21.5" height="5.5" fill="#fdfdfb" stroke="#a9a02c" stroke-width="0.55"/>
<path d="M624.9,370.5l2.2,1.55l-2.2,1.55" fill="none" stroke="#e2e2e2" stroke-width="0.6"/>
<text x="612.00" y="373.50" font-size="4.2" font-weight="bold" fill="#a9a02c">Lsat_1_v8_</text>
<polygon points="332.6,375.5 334.2,375.5 632.6,387.5 42.5,387.5" fill="#c6d0d5"/>
<path d="M49.8,380.1h3.4M49.8,381.3h3.4M49.8,382.5h3.4" stroke="#8199a6" stroke-width="0.8"/>
<rect x="333" y="369" width="0.6" height="5.8" fill="#d22"/>
<rect x="249.5" y="376.3" width="18.2" height="7.8" rx="1" fill="#fbfbfc" stroke="#e3e6e8" stroke-width="0.4"/>
<path d="M260.20000000000005,380.2h-3.2M258.3,378.9l-1.3,1.3l1.3,1.3" stroke="#333" stroke-width="0.7" fill="none"/>
<rect x="272.6" y="376.3" width="18.2" height="7.8" rx="1" fill="#fbfbfc" stroke="#e3e6e8" stroke-width="0.4"/>
<path d="M280.1,380.2h3.2M282.00000000000006,378.9l1.3,1.3l-1.3,1.3" stroke="#333" stroke-width="0.7" fill="none"/>
<rect x="295.2" y="376.2" width="97.19999999999999" height="8" rx="0.8" fill="#fff" stroke="#dfe3e6" stroke-width="0.4"/>
<text x="297.20" y="381.60" font-size="4.1" fill="#333" textLength="86.1" lengthAdjust="spacingAndGlyphs">Lsat_1_v8_lg_5:115,838,052..116,460,655</text>
<circle cx="387.79999999999995" cy="379.9" r="1.2" fill="none" stroke="#444" stroke-width="0.5"/><path d="M388.59999999999997,380.8l1.2,1.2" stroke="#444" stroke-width="0.6"/>
<text x="396.20" y="381.60" font-size="3.2" fill="#9a9a9a">622,604 bp</text>
<path d="M396.2,382.3h17.5" stroke="#bbb" stroke-width="0.3"/>
<circle cx="417.2" cy="379.8" r="1.1" fill="none" stroke="#555" stroke-width="0.5"/><path d="M418.0,380.59999999999997l1.1,1.1" stroke="#555" stroke-width="0.55"/>
<circle cx="445.8" cy="379.8" r="1.1" fill="none" stroke="#555" stroke-width="0.5"/><path d="M446.6,380.59999999999997l1.1,1.1" stroke="#555" stroke-width="0.55"/>
<path d="M421.2,380.2H442.3" stroke="#8b93a8" stroke-width="0.6"/>
<circle cx="430.9" cy="380.2" r="1.5" fill="#1b2340"/>
<line x1="44.36" y1="393.0" x2="44.36" y2="423" stroke="#b4b4b4" stroke-width="0.5"/>
<line x1="53.84" y1="387.8" x2="53.84" y2="423" stroke="#e7e7e7" stroke-width="0.5"/>
<line x1="63.33" y1="387.8" x2="63.33" y2="423" stroke="#e7e7e7" stroke-width="0.5"/>
<line x1="72.81" y1="387.8" x2="72.81" y2="423" stroke="#e7e7e7" stroke-width="0.5"/>
<line x1="82.30" y1="393.0" x2="82.30" y2="423" stroke="#b4b4b4" stroke-width="0.5"/>
<line x1="91.78" y1="387.8" x2="91.78" y2="423" stroke="#e7e7e7" stroke-width="0.5"/>
<line x1="101.27" y1="387.8" x2="101.27" y2="423" stroke="#e7e7e7" stroke-width="0.5"/>
<line x1="110.75" y1="387.8" x2="110.75" y2="423" stroke="#e7e7e7" stroke-width="0.5"/>
<line x1="120.24" y1="393.0" x2="120.24" y2="423" stroke="#b4b4b4" stroke-width="0.5"/>
<line x1="129.72" y1="387.8" x2="129.72" y2="423" stroke="#e7e7e7" stroke-width="0.5"/>
<line x1="139.21" y1="387.8" x2="139.21" y2="423" stroke="#e7e7e7" stroke-width="0.5"/>
<line x1="148.69" y1="387.8" x2="148.69" y2="423" stroke="#e7e7e7" stroke-width="0.5"/>
<line x1="158.18" y1="393.0" x2="158.18" y2="423" stroke="#b4b4b4" stroke-width="0.5"/>
<line x1="167.67" y1="387.8" x2="167.67" y2="423" stroke="#e7e7e7" stroke-width="0.5"/>
<line x1="177.15" y1="387.8" x2="177.15" y2="423" stroke="#e7e7e7" stroke-width="0.5"/>
<line x1="186.64" y1="387.8" x2="186.64" y2="423" stroke="#e7e7e7" stroke-width="0.5"/>
<line x1="196.12" y1="393.0" x2="196.12" y2="423" stroke="#b4b4b4" stroke-width="0.5"/>
<line x1="205.61" y1="387.8" x2="205.61" y2="423" stroke="#e7e7e7" stroke-width="0.5"/>
<line x1="215.09" y1="387.8" x2="215.09" y2="423" stroke="#e7e7e7" stroke-width="0.5"/>
<line x1="224.58" y1="387.8" x2="224.58" y2="423" stroke="#e7e7e7" stroke-width="0.5"/>
<line x1="234.06" y1="393.0" x2="234.06" y2="423" stroke="#b4b4b4" stroke-width="0.5"/>
<line x1="243.55" y1="387.8" x2="243.55" y2="423" stroke="#e7e7e7" stroke-width="0.5"/>
<line x1="253.03" y1="387.8" x2="253.03" y2="423" stroke="#e7e7e7" stroke-width="0.5"/>
<line x1="262.52" y1="387.8" x2="262.52" y2="423" stroke="#e7e7e7" stroke-width="0.5"/>
<line x1="272.00" y1="393.0" x2="272.00" y2="423" stroke="#b4b4b4" stroke-width="0.5"/>
<line x1="281.49" y1="387.8" x2="281.49" y2="423" stroke="#e7e7e7" stroke-width="0.5"/>
<line x1="290.97" y1="387.8" x2="290.97" y2="423" stroke="#e7e7e7" stroke-width="0.5"/>
<line x1="300.46" y1="387.8" x2="300.46" y2="423" stroke="#e7e7e7" stroke-width="0.5"/>
<line x1="309.94" y1="393.0" x2="309.94" y2="423" stroke="#b4b4b4" stroke-width="0.5"/>
<line x1="319.43" y1="387.8" x2="319.43" y2="423" stroke="#e7e7e7" stroke-width="0.5"/>
<line x1="328.91" y1="387.8" x2="328.91" y2="423" stroke="#e7e7e7" stroke-width="0.5"/>
<line x1="338.40" y1="387.8" x2="338.40" y2="423" stroke="#e7e7e7" stroke-width="0.5"/>
<line x1="347.88" y1="393.0" x2="347.88" y2="423" stroke="#b4b4b4" stroke-width="0.5"/>
<line x1="357.37" y1="387.8" x2="357.37" y2="423" stroke="#e7e7e7" stroke-width="0.5"/>
<line x1="366.85" y1="387.8" x2="366.85" y2="423" stroke="#e7e7e7" stroke-width="0.5"/>
<line x1="376.34" y1="387.8" x2="376.34" y2="423" stroke="#e7e7e7" stroke-width="0.5"/>
<line x1="385.82" y1="393.0" x2="385.82" y2="423" stroke="#b4b4b4" stroke-width="0.5"/>
<line x1="395.31" y1="387.8" x2="395.31" y2="423" stroke="#e7e7e7" stroke-width="0.5"/>
<line x1="404.79" y1="387.8" x2="404.79" y2="423" stroke="#e7e7e7" stroke-width="0.5"/>
<line x1="414.28" y1="387.8" x2="414.28" y2="423" stroke="#e7e7e7" stroke-width="0.5"/>
<line x1="423.76" y1="393.0" x2="423.76" y2="423" stroke="#b4b4b4" stroke-width="0.5"/>
<line x1="433.25" y1="387.8" x2="433.25" y2="423" stroke="#e7e7e7" stroke-width="0.5"/>
<line x1="442.73" y1="387.8" x2="442.73" y2="423" stroke="#e7e7e7" stroke-width="0.5"/>
<line x1="452.22" y1="387.8" x2="452.22" y2="423" stroke="#e7e7e7" stroke-width="0.5"/>
<line x1="461.70" y1="393.0" x2="461.70" y2="423" stroke="#b4b4b4" stroke-width="0.5"/>
<line x1="471.19" y1="387.8" x2="471.19" y2="423" stroke="#e7e7e7" stroke-width="0.5"/>
<line x1="480.67" y1="387.8" x2="480.67" y2="423" stroke="#e7e7e7" stroke-width="0.5"/>
<line x1="490.16" y1="387.8" x2="490.16" y2="423" stroke="#e7e7e7" stroke-width="0.5"/>
<line x1="499.64" y1="393.0" x2="499.64" y2="423" stroke="#b4b4b4" stroke-width="0.5"/>
<line x1="509.13" y1="387.8" x2="509.13" y2="423" stroke="#e7e7e7" stroke-width="0.5"/>
<line x1="518.61" y1="387.8" x2="518.61" y2="423" stroke="#e7e7e7" stroke-width="0.5"/>
<line x1="528.10" y1="387.8" x2="528.10" y2="423" stroke="#e7e7e7" stroke-width="0.5"/>
<line x1="537.58" y1="393.0" x2="537.58" y2="423" stroke="#b4b4b4" stroke-width="0.5"/>
<line x1="547.07" y1="387.8" x2="547.07" y2="423" stroke="#e7e7e7" stroke-width="0.5"/>
<line x1="556.55" y1="387.8" x2="556.55" y2="423" stroke="#e7e7e7" stroke-width="0.5"/>
<line x1="566.04" y1="387.8" x2="566.04" y2="423" stroke="#e7e7e7" stroke-width="0.5"/>
<line x1="575.52" y1="393.0" x2="575.52" y2="423" stroke="#b4b4b4" stroke-width="0.5"/>
<line x1="585.01" y1="387.8" x2="585.01" y2="423" stroke="#e7e7e7" stroke-width="0.5"/>
<line x1="594.49" y1="387.8" x2="594.49" y2="423" stroke="#e7e7e7" stroke-width="0.5"/>
<line x1="603.98" y1="387.8" x2="603.98" y2="423" stroke="#e7e7e7" stroke-width="0.5"/>
<line x1="613.46" y1="393.0" x2="613.46" y2="423" stroke="#b4b4b4" stroke-width="0.5"/>
<line x1="622.95" y1="387.8" x2="622.95" y2="423" stroke="#e7e7e7" stroke-width="0.5"/>
<text x="72.89" y="391.60" font-size="3.6" fill="#777">115,880,000</text>
<text x="110.83" y="391.60" font-size="3.6" fill="#777">115,920,000</text>
<text x="148.77" y="391.60" font-size="3.6" fill="#777">115,960,000</text>
<text x="186.71" y="391.60" font-size="3.6" fill="#777">116,000,000</text>
<text x="224.65" y="391.60" font-size="3.6" fill="#777">116,040,000</text>
<text x="262.59" y="391.60" font-size="3.6" fill="#777">116,080,000</text>
<text x="300.53" y="391.60" font-size="3.6" fill="#777">116,120,000</text>
<text x="338.47" y="391.60" font-size="3.6" fill="#777">116,160,000</text>
<text x="376.41" y="391.60" font-size="3.6" fill="#777">116,200,000</text>
<text x="414.35" y="391.60" font-size="3.6" fill="#777">116,240,000</text>
<text x="452.29" y="391.60" font-size="3.6" fill="#777">116,280,000</text>
<text x="490.23" y="391.60" font-size="3.6" fill="#777">116,320,000</text>
<text x="528.17" y="391.60" font-size="3.6" fill="#777">116,360,000</text>
<text x="566.11" y="391.60" font-size="3.6" fill="#777">116,400,000</text>
<text x="604.05" y="391.60" font-size="3.6" fill="#777">116,440,000</text>
<text x="42.90" y="391.60" font-size="3.5" font-weight="bold" fill="#111">Lsat_1_v8_lg_5</text>
<rect x="629.5" y="393.40000000000003" width="2.9" height="12.6" fill="#767676"/>
<rect x="42.699999999999996" y="394.2" width="85.9" height="7" fill="#fff" opacity="0.93"/>
<path d="M45.5,396.1v3.4M46.6,396.1v3.4" stroke="#9db3bf" stroke-width="0.6" stroke-dasharray="0.7,0.5"/>
<path d="M51.2,396.5l2.6,2.6M51.2,399.1l2.6,-2.6" stroke="#3a4560" stroke-width="0.6"/>
<text x="56.40" y="399.10" font-size="3.9" fill="#333">Lsativa_467_v5.gene_exons.sort.gff3</text>
<path d="M125.1,396.1v3.4" stroke="#9db3bf" stroke-width="0.6" stroke-dasharray="0.7,0.5"/>
<path d="M42.699999999999996,401.3H128.3" stroke="#c4c4c4" stroke-width="0.45" stroke-dasharray="0.8,0.6"/>
<path d="M233.30,393.80h1.5l1.3,1.4l-1.3,1.4h-1.5z" fill="#cf9f1e" stroke="#c08c14" stroke-width="0.35" stroke-linejoin="round"/>
<text x="233.90" y="400.60" font-size="4" fill="#4a4a4a" textLength="41.5" lengthAdjust="spacingAndGlyphs">Lsat_1_v5_gn_5_51221</text>
<rect x="241.8" y="401.2" width="43.4" height="11" fill="#b2b2b2" opacity="0.9"/>
<path d="M242.90,401.30h1.5l1.3,1.4l-1.3,1.4h-1.5z" fill="#cf9f1e" stroke="#c08c14" stroke-width="0.35" stroke-linejoin="round"/>
<text x="242.20" y="411.60" font-size="4" font-weight="bold" fill="#2e2e2e" textLength="41.7" lengthAdjust="spacingAndGlyphs">Lsat_1_v5_gn_5_51241</text>
<path d="M242.90,404.70h1.5l1.3,1.4l-1.3,1.4h-1.5z" fill="#cf9f1e" stroke="#c08c14" stroke-width="0.35" stroke-linejoin="round"/>
<rect x="274.4" y="404.1" width="42.4" height="5.6" rx="1" fill="#5a5a5a"/>
<text x="276.20" y="408.20" font-size="3.5" font-weight="bold" fill="#fff">Lsat_1_v5_gn_5_51241</text>
<path d="M252.10,412.40h1.5l1.3,1.4l-1.3,1.4h-1.5z" fill="#cf9f1e" stroke="#c08c14" stroke-width="0.35" stroke-linejoin="round"/>
<text x="253.00" y="419.40" font-size="4" fill="#4a4a4a" textLength="41.5" lengthAdjust="spacingAndGlyphs">Lsat_1_v5_gn_5_51261</text>
<path d="M509.50,393.30h1.5l1.3,1.4l-1.3,1.4h-1.5z" fill="#cf9f1e" stroke="#c08c14" stroke-width="0.35" stroke-linejoin="round"/>
<text x="510.00" y="404.60" font-size="4" fill="#4a4a4a" textLength="40.7" lengthAdjust="spacingAndGlyphs">Lsat_1_v5_gn_5_51381</text>
<path d="M509.50,397.20h1.5l1.3,1.4l-1.3,1.4h-1.5z" fill="#cf9f1e" stroke="#c08c14" stroke-width="0.35" stroke-linejoin="round"/>
<path d="M529.30,405.10h1.5l1.3,1.4l-1.3,1.4h-1.5z" fill="#cf9f1e" stroke="#c08c14" stroke-width="0.35" stroke-linejoin="round"/>
<text x="530.30" y="411.90" font-size="4" fill="#4a4a4a" textLength="41.1" lengthAdjust="spacingAndGlyphs">Lsat_1_v5_gn_5_51360</text>
</svg></div>
<svg class="b" style="left:364.80px;top:22.60px" width="23.20" height="23.20" viewBox="-11.71 -11.71 23.42 23.42">
<circle r="10.7" fill="#5b889d"/>
<polygon points="8.39,-0.97 8.39,0.97 6.91,1.10 6.54,2.51 7.76,3.36 6.78,5.04 5.44,4.41 4.41,5.44 5.04,6.78 3.36,7.76 2.51,6.54 1.10,6.91 0.97,8.39 -0.97,8.39 -1.10,6.91 -2.51,6.54 -3.36,7.76 -5.04,6.78 -4.41,5.44 -5.44,4.41 -6.78,5.04 -7.76,3.36 -6.54,2.51 -6.91,1.10 -8.39,0.97 -8.39,-0.97 -6.91,-1.10 -6.54,-2.51 -7.76,-3.36 -6.78,-5.04 -5.44,-4.41 -4.41,-5.44 -5.04,-6.78 -3.36,-7.76 -2.51,-6.54 -1.10,-6.91 -0.97,-8.39 0.97,-8.39 1.10,-6.91 2.51,-6.54 3.36,-7.76 5.04,-6.78 4.41,-5.44 5.44,-4.41 6.78,-5.04 7.76,-3.36 6.54,-2.51 6.91,-1.10" fill="#fff"/>
<circle r="5.4" fill="#5b889d"/>
<g transform="rotate(42)">
<rect x="-0.5" y="-1.35" width="10.2" height="2.7" rx="1.2" fill="#1d2b45"/>
<path d="M-3.6,-2.9 A3.4,3.4 0 1 1 -3.6,2.9 L-2.6,1.3 L-0.6,1.3 L-0.6,-1.3 L-2.6,-1.3 Z" fill="#1d2b45" transform="translate(0.6,0)"/>
</g>
</svg>
<svg class="b" style="left:411px;top:139.7px" width="13.6" height="31.4" viewBox="0 0 13.6 31.4">
<rect width="13.6" height="31.4" fill="#f3f3f3"/>
<rect x="1.4" y="10.5" width="10.8" height="9.6" fill="#9e9e9e"/>
<polygon points="2.2,8.2 6.8,2.6 11.4,8.2" fill="#c6c6c6"/>
<polygon points="2.2,24.6 6.8,30 11.4,24.6" fill="#444"/>
</svg>
<svg class="b" style="left:459.10px;top:22.70px" width="23.00" height="23.00" viewBox="-11.72 -11.72 23.44 23.44">
<circle r="10.7" fill="#5b889d"/>
<polygon points="8.39,-0.97 8.39,0.97 6.91,1.10 6.54,2.51 7.76,3.36 6.78,5.04 5.44,4.41 4.41,5.44 5.04,6.78 3.36,7.76 2.51,6.54 1.10,6.91 0.97,8.39 -0.97,8.39 -1.10,6.91 -2.51,6.54 -3.36,7.76 -5.04,6.78 -4.41,5.44 -5.44,4.41 -6.78,5.04 -7.76,3.36 -6.54,2.51 -6.91,1.10 -8.39,0.97 -8.39,-0.97 -6.91,-1.10 -6.54,-2.51 -7.76,-3.36 -6.78,-5.04 -5.44,-4.41 -4.41,-5.44 -5.04,-6.78 -3.36,-7.76 -2.51,-6.54 -1.10,-6.91 -0.97,-8.39 0.97,-8.39 1.10,-6.91 2.51,-6.54 3.36,-7.76 5.04,-6.78 4.41,-5.44 5.44,-4.41 6.78,-5.04 7.76,-3.36 6.54,-2.51 6.91,-1.10" fill="#fff"/>
<circle r="5.4" fill="#5b889d"/>
<g transform="rotate(42)">
<rect x="-0.5" y="-1.35" width="10.2" height="2.7" rx="1.2" fill="#1d2b45"/>
<path d="M-3.6,-2.9 A3.4,3.4 0 1 1 -3.6,2.9 L-2.6,1.3 L-0.6,1.3 L-0.6,-1.3 L-2.6,-1.3 Z" fill="#1d2b45" transform="translate(0.6,0)"/>
</g>
</svg>
<svg class="b" style="left:24.75px;top:262.75px" width="22.90" height="22.90" viewBox="-11.72 -11.72 23.45 23.45">
<circle r="10.7" fill="#5b889d"/>
<polygon points="8.39,-0.97 8.39,0.97 6.91,1.10 6.54,2.51 7.76,3.36 6.78,5.04 5.44,4.41 4.41,5.44 5.04,6.78 3.36,7.76 2.51,6.54 1.10,6.91 0.97,8.39 -0.97,8.39 -1.10,6.91 -2.51,6.54 -3.36,7.76 -5.04,6.78 -4.41,5.44 -5.44,4.41 -6.78,5.04 -7.76,3.36 -6.54,2.51 -6.91,1.10 -8.39,0.97 -8.39,-0.97 -6.91,-1.10 -6.54,-2.51 -7.76,-3.36 -6.78,-5.04 -5.44,-4.41 -4.41,-5.44 -5.04,-6.78 -3.36,-7.76 -2.51,-6.54 -1.10,-6.91 -0.97,-8.39 0.97,-8.39 1.10,-6.91 2.51,-6.54 3.36,-7.76 5.04,-6.78 4.41,-5.44 5.44,-4.41 6.78,-5.04 7.76,-3.36 6.54,-2.51 6.91,-1.10" fill="#fff"/>
<circle r="5.4" fill="#5b889d"/>
<g transform="rotate(42)">
<rect x="-0.5" y="-1.35" width="10.2" height="2.7" rx="1.2" fill="#1d2b45"/>
<path d="M-3.6,-2.9 A3.4,3.4 0 1 1 -3.6,2.9 L-2.6,1.3 L-0.6,1.3 L-0.6,-1.3 L-2.6,-1.3 Z" fill="#1d2b45" transform="translate(0.6,0)"/>
</g>
</svg>
<svg class="b" style="left:24.70px;top:454.30px" width="23.20" height="23.20" viewBox="-11.71 -11.71 23.42 23.42">
<circle r="10.7" fill="#5b889d"/>
<polygon points="8.39,-0.97 8.39,0.97 6.91,1.10 6.54,2.51 7.76,3.36 6.78,5.04 5.44,4.41 4.41,5.44 5.04,6.78 3.36,7.76 2.51,6.54 1.10,6.91 0.97,8.39 -0.97,8.39 -1.10,6.91 -2.51,6.54 -3.36,7.76 -5.04,6.78 -4.41,5.44 -5.44,4.41 -6.78,5.04 -7.76,3.36 -6.54,2.51 -6.91,1.10 -8.39,0.97 -8.39,-0.97 -6.91,-1.10 -6.54,-2.51 -7.76,-3.36 -6.78,-5.04 -5.44,-4.41 -4.41,-5.44 -5.04,-6.78 -3.36,-7.76 -2.51,-6.54 -1.10,-6.91 -0.97,-8.39 0.97,-8.39 1.10,-6.91 2.51,-6.54 3.36,-7.76 5.04,-6.78 4.41,-5.44 5.44,-4.41 6.78,-5.04 7.76,-3.36 6.54,-2.51 6.91,-1.10" fill="#fff"/>
<circle r="5.4" fill="#5b889d"/>
<g transform="rotate(42)">
<rect x="-0.5" y="-1.35" width="10.2" height="2.7" rx="1.2" fill="#1d2b45"/>
<path d="M-3.6,-2.9 A3.4,3.4 0 1 1 -3.6,2.9 L-2.6,1.3 L-0.6,1.3 L-0.6,-1.3 L-2.6,-1.3 Z" fill="#1d2b45" transform="translate(0.6,0)"/>
</g>
</svg>
<svg class="b" style="left:275.90px;top:462.20px" width="23.20" height="23.20" viewBox="-11.71 -11.71 23.42 23.42">
<circle r="10.7" fill="#5b889d"/>
<polygon points="8.39,-0.97 8.39,0.97 6.91,1.10 6.54,2.51 7.76,3.36 6.78,5.04 5.44,4.41 4.41,5.44 5.04,6.78 3.36,7.76 2.51,6.54 1.10,6.91 0.97,8.39 -0.97,8.39 -1.10,6.91 -2.51,6.54 -3.36,7.76 -5.04,6.78 -4.41,5.44 -5.44,4.41 -6.78,5.04 -7.76,3.36 -6.54,2.51 -6.91,1.10 -8.39,0.97 -8.39,-0.97 -6.91,-1.10 -6.54,-2.51 -7.76,-3.36 -6.78,-5.04 -5.44,-4.41 -4.41,-5.44 -5.04,-6.78 -3.36,-7.76 -2.51,-6.54 -1.10,-6.91 -0.97,-8.39 0.97,-8.39 1.10,-6.91 2.51,-6.54 3.36,-7.76 5.04,-6.78 4.41,-5.44 5.44,-4.41 6.78,-5.04 7.76,-3.36 6.54,-2.51 6.91,-1.10" fill="#fff"/>
<circle r="5.4" fill="#5b889d"/>
<g transform="rotate(42)">
<rect x="-0.5" y="-1.35" width="10.2" height="2.7" rx="1.2" fill="#1d2b45"/>
<path d="M-3.6,-2.9 A3.4,3.4 0 1 1 -3.6,2.9 L-2.6,1.3 L-0.6,1.3 L-0.6,-1.3 L-2.6,-1.3 Z" fill="#1d2b45" transform="translate(0.6,0)"/>
</g>
</svg>
<svg class="b" style="left:0;top:0" width="659" height="685" viewBox="0 0 659 685">
<defs><linearGradient id="bkA" x1="0" y1="0" x2="0" y2="1"><stop offset="0" stop-color="#86a0d6"/><stop offset="1" stop-color="#5a7bc0"/></linearGradient><linearGradient id="bkB" x1="0" y1="0" x2="0" y2="1"><stop offset="0" stop-color="#f1f4fb"/><stop offset="1" stop-color="#b9c8e8"/></linearGradient><linearGradient id="bkC" x1="0" y1="0" x2="1" y2="1"><stop offset="0" stop-color="#7c9ad6"/><stop offset="1" stop-color="#5577bf"/></linearGradient></defs>
<polygon points="360.20,481.67 365.46,479.29 394.19,482.38 394.54,485.60 382.07,493.45 360.48,485.04" fill="url(#bkC)"/>
<polygon points="360.20,481.67 381.79,489.80 382.07,493.45 360.48,485.04" fill="#4c6fb6"/>
<polygon points="381.79,490.08 394.26,482.94 394.54,485.60 382.07,493.31" fill="#e9eefa"/>
<polygon points="363.57,478.17 367.21,477.19 391.39,480.83 390.90,483.50 386.13,486.58 363.71,481.67" fill="url(#bkA)"/>
<polygon points="386.27,484.48 391.04,481.39 390.90,483.50 386.13,486.58" fill="#eef2fb"/>
<polygon points="365.46,473.83 391.88,473.41 391.46,478.03 379.13,479.85 365.81,477.05" fill="url(#bkB)"/>
<polygon points="365.46,473.83 391.88,473.41 391.74,474.67 365.60,475.09" fill="#9db3e0"/>
<polygon points="362.59,468.50 389.78,468.92 389.08,473.27 363.01,472.56" fill="url(#bkA)"/>
<polygon points="363.71,464.02 390.48,464.30 389.78,468.64 363.99,467.66" fill="url(#bkB)"/>
<polygon points="364.97,455.61 386.83,454.34 389.50,456.59 390.76,460.51 390.34,464.16 365.81,463.88" fill="url(#bkA)"/>
<polygon points="364.97,455.61 386.83,454.34 388.94,456.31 388.80,458.55 365.39,459.25" fill="#5b7cc2"/>
<polygon points="378.00,459.39 390.76,460.51 390.34,464.16 378.00,463.74" fill="#e6ecf8"/>
<polygon points="386.83,454.91 389.64,456.87 389.08,459.25 387.25,458.27" fill="#eef2fb"/>
</svg>
<svg class="b" style="left:278.00px;top:513.90px" width="24" height="24" viewBox="-12 -12 24 24">
<g fill="none" stroke="#4a8db6" stroke-width="1.15">
<circle r="9.8"/>
<ellipse rx="5.39" ry="9.8"/>
<path d="M0,-9.8V9.8" stroke-width="1.4" stroke="#7fb2d0"/>
<path d="M-9.8,0H9.8"/>
<path d="M-8.43,-4.90H8.43"/>
<path d="M-8.43,4.90H8.43"/>
</g>
<path d="M1.8,1.9 L9.6,5.2 L6.7,6.2 L9.3,9.6 L7.9,10.6 L5.4,7.1 L3.5,9.3 Z" fill="#4a8db6" stroke="#fff" stroke-width="0.8"/>
</svg>
<svg class="b" style="left:420.20px;top:454.30px" width="24" height="24" viewBox="-12 -12 24 24">
<circle r="10.95" fill="#65abd0"/>
<g fill="none" stroke="#fff" stroke-width="0.85" stroke-linecap="round">
<circle cx="0.3" cy="0.5" r="6.6"/>
<path d="M-5.9,-1.6 C-2.5,-2.6 0.8,0.2 0.9,7.0"/>
<path d="M6.6,-1.2 C3.4,-2.4 0.6,-0.6 0.9,3.2"/>
<path d="M-3.2,-5.2 C-1,-4.6 1.2,-2.6 1.6,-0.4"/>
<path d="M-1.6,-4.9 C-0.6,-5.9 1.2,-5.9 1.6,-4.6"/>
</g>
</svg>
<svg class="b" style="left:427.50px;top:485.20px" width="16" height="15" viewBox="0 0 16 15">
<defs><linearGradient id="bg485" x1="0" y1="0" x2="0.6" y2="1"><stop offset="0" stop-color="#d3d3d3"/><stop offset="0.5" stop-color="#bdbdbd"/><stop offset="1" stop-color="#b4b4b4"/></linearGradient></defs>
<path d="M7.2,0.4 C11.4,0.4 14.2,2.9 14.2,6.1 C14.2,8.2 13.2,9.7 11.6,10.7 C11.8,11.9 12.2,12.8 12.9,13.6 C11.3,13.5 9.9,12.8 9,11.7 C8.4,11.8 7.8,11.8 7.2,11.8 C3.2,11.8 0.3,9.3 0.3,6.1 C0.3,2.9 3.2,0.4 7.2,0.4 Z" fill="url(#bg485)"/>
<path d="M2.2,5.2 C2.8,3 5,1.7 7.6,1.6" fill="none" stroke="#e2e2e2" stroke-width="0.7" stroke-linecap="round"/>
</svg>
<svg class="b" style="left:427.50px;top:504.90px" width="16" height="15" viewBox="0 0 16 15">
<defs><linearGradient id="bg504" x1="0" y1="0" x2="0.6" y2="1"><stop offset="0" stop-color="#d3d3d3"/><stop offset="0.5" stop-color="#bdbdbd"/><stop offset="1" stop-color="#b4b4b4"/></linearGradient></defs>
<path d="M7.2,0.4 C11.4,0.4 14.2,2.9 14.2,6.1 C14.2,8.2 13.2,9.7 11.6,10.7 C11.8,11.9 12.2,12.8 12.9,13.6 C11.3,13.5 9.9,12.8 9,11.7 C8.4,11.8 7.8,11.8 7.2,11.8 C3.2,11.8 0.3,9.3 0.3,6.1 C0.3,2.9 3.2,0.4 7.2,0.4 Z" fill="url(#bg504)"/>
<path d="M2.2,5.2 C2.8,3 5,1.7 7.6,1.6" fill="none" stroke="#e2e2e2" stroke-width="0.7" stroke-linecap="round"/>
</svg>
<svg class="b" style="left:459.40px;top:531.10px" width="13.4" height="13" viewBox="0 0 13.4 13">
<defs><linearGradient id="dg531" x1="0" y1="0" x2="0" y2="1"><stop offset="0" stop-color="#cdcdcd"/><stop offset="1" stop-color="#e9e9e9"/></linearGradient></defs>
<path d="M0.6,0.2 H7.8 L12.7,4.8 V11.8 Q12.7,12.5 12.0,12.5 H0.7 Q0,12.5 0,11.8 V0.9 Q0,0.2 0.6,0.2 Z" fill="url(#dg531)"/>
<path d="M7.8,0.2 L12.7,4.8 H8.5 Q7.8,4.8 7.8,4.1 Z" fill="#f6f6f6"/>
<path d="M7.8,4.8 H12.7 V5.7 Z" fill="#c4c4c4"/>
</svg>
<svg class="b" style="left:459.40px;top:550.40px" width="13.4" height="13" viewBox="0 0 13.4 13">
<defs><linearGradient id="dg550" x1="0" y1="0" x2="0" y2="1"><stop offset="0" stop-color="#cdcdcd"/><stop offset="1" stop-color="#e9e9e9"/></linearGradient></defs>
<path d="M0.6,0.2 H7.8 L12.7,4.8 V11.8 Q12.7,12.5 12.0,12.5 H0.7 Q0,12.5 0,11.8 V0.9 Q0,0.2 0.6,0.2 Z" fill="url(#dg550)"/>
<path d="M7.8,0.2 L12.7,4.8 H8.5 Q7.8,4.8 7.8,4.1 Z" fill="#f6f6f6"/>
<path d="M7.8,4.8 H12.7 V5.7 Z" fill="#c4c4c4"/>
</svg>
<svg class="b" style="left:459.40px;top:569.70px" width="13.4" height="13" viewBox="0 0 13.4 13">
<defs><linearGradient id="dg569" x1="0" y1="0" x2="0" y2="1"><stop offset="0" stop-color="#cdcdcd"/><stop offset="1" stop-color="#e9e9e9"/></linearGradient></defs>
<path d="M0.6,0.2 H7.8 L12.7,4.8 V11.8 Q12.7,12.5 12.0,12.5 H0.7 Q0,12.5 0,11.8 V0.9 Q0,0.2 0.6,0.2 Z" fill="url(#dg569)"/>
<path d="M7.8,0.2 L12.7,4.8 H8.5 Q7.8,4.8 7.8,4.1 Z" fill="#f6f6f6"/>
<path d="M7.8,4.8 H12.7 V5.7 Z" fill="#c4c4c4"/>
</svg>
<svg class="b" style="left:459.40px;top:589.00px" width="13.4" height="13" viewBox="0 0 13.4 13">
<defs><linearGradient id="dg589" x1="0" y1="0" x2="0" y2="1"><stop offset="0" stop-color="#cdcdcd"/><stop offset="1" stop-color="#e9e9e9"/></linearGradient></defs>
<path d="M0.6,0.2 H7.8 L12.7,4.8 V11.8 Q12.7,12.5 12.0,12.5 H0.7 Q0,12.5 0,11.8 V0.9 Q0,0.2 0.6,0.2 Z" fill="url(#dg589)"/>
<path d="M7.8,0.2 L12.7,4.8 H8.5 Q7.8,4.8 7.8,4.1 Z" fill="#f6f6f6"/>
<path d="M7.8,4.8 H12.7 V5.7 Z" fill="#c4c4c4"/>
</svg>
<svg class="b" style="left:459.40px;top:608.40px" width="13.4" height="13" viewBox="0 0 13.4 13">
<defs><linearGradient id="dg608" x1="0" y1="0" x2="0" y2="1"><stop offset="0" stop-color="#cdcdcd"/><stop offset="1" stop-color="#e9e9e9"/></linearGradient></defs>
<path d="M0.6,0.2 H7.8 L12.7,4.8 V11.8 Q12.7,12.5 12.0,12.5 H0.7 Q0,12.5 0,11.8 V0.9 Q0,0.2 0.6,0.2 Z" fill="url(#dg608)"/>
<path d="M7.8,0.2 L12.7,4.8 H8.5 Q7.8,4.8 7.8,4.1 Z" fill="#f6f6f6"/>
<path d="M7.8,4.8 H12.7 V5.7 Z" fill="#c4c4c4"/>
</svg>
<svg class="b" style="left:459.40px;top:642.90px" width="13.4" height="13" viewBox="0 0 13.4 13">
<defs><linearGradient id="dg642" x1="0" y1="0" x2="0" y2="1"><stop offset="0" stop-color="#cdcdcd"/><stop offset="1" stop-color="#e9e9e9"/></linearGradient></defs>
<path d="M0.6,0.2 H7.8 L12.7,4.8 V11.8 Q12.7,12.5 12.0,12.5 H0.7 Q0,12.5 0,11.8 V0.9 Q0,0.2 0.6,0.2 Z" fill="url(#dg642)"/>
<path d="M7.8,0.2 L12.7,4.8 H8.5 Q7.8,4.8 7.8,4.1 Z" fill="#f6f6f6"/>
<path d="M7.8,4.8 H12.7 V5.7 Z" fill="#c4c4c4"/>
</svg>
<div class="tw">
<div class="t" style="left:0.60px;top:1.00px;font-size:13px;color:#0a0a0a;font-weight:bold;">A</div>
<div class="t" style="left:35.40px;top:30.00px;font-size:12.43px;color:#111;font-weight:normal;">Enter query sequences here in <span style="color:#72b2d6">Fasta</span> format</div>
<div class="t" style="left:390.30px;top:29.00px;font-size:12.43px;color:#598eae;font-weight:bold;">Blast</div>
<div class="t" style="left:35.40px;top:117.00px;font-size:12.43px;color:#111;font-weight:normal;">Or upload sequence fasta file:</div>
<div class="t" style="left:202.30px;width:70.40px;text-align:center;top:117.00px;font-size:12.43px;color:#111;font-weight:normal;">upload file</div>
<div class="t" style="left:35.40px;top:140.00px;font-size:12.43px;color:#72b2d6;font-weight:normal;">Program</div>
<div class="t" style="left:92.70px;top:140.00px;font-size:12.43px;color:#111;font-weight:normal;letter-spacing:-0.42px;">blastn</div>
<div class="t" style="left:130.00px;top:140.00px;font-size:12.43px;color:#111;font-weight:normal;transform-origin:0 100%;transform:scale(1.12,0.92);">v</div>
<div class="t" style="left:152.60px;top:140.00px;font-size:12.43px;color:#72b2d6;font-weight:normal;">Database(s)</div>
<div class="t" style="left:229.00px;top:142.00px;font-size:12.43px;color:#111;font-weight:normal;">Stem_lettuce_genome.v1.0</div>
<div class="t" style="left:229.00px;top:157.00px;font-size:12.43px;color:#111;font-weight:normal;">Butterhead_lettuce_genome.v8</div>
<div class="t" style="left:35.40px;top:185.00px;font-size:12.43px;color:#111;font-weight:normal;">And/or upload sequence fasta file:</div>
<div class="t" style="left:227.70px;width:69.80px;text-align:center;top:185.00px;font-size:12.43px;color:#111;font-weight:normal;">upload file</div>
<div class="t" style="left:36.90px;width:83.40px;text-align:center;top:210.00px;font-size:12.43px;color:#111;font-weight:normal;">Basic search</div>
<div class="t" style="left:137.70px;width:53.50px;text-align:center;top:210.00px;font-size:12.43px;color:#111;font-weight:normal;">Reset</div>
<div class="t" style="left:445.00px;top:1.00px;font-size:13px;color:#0a0a0a;font-weight:bold;">C</div>
<div class="t" style="left:484.70px;top:29.00px;font-size:12.43px;color:#598eae;font-weight:bold;">Gene expression</div>
<div class="t" style="left:466px;width:19.5px;text-align:right;top:170.00px;font-size:9.0px;color:#2b2b2b">0</div>
<div class="t" style="left:466px;width:19.5px;text-align:right;top:150.00px;font-size:9.0px;color:#2b2b2b">10</div>
<div class="t" style="left:466px;width:19.5px;text-align:right;top:130.00px;font-size:9.0px;color:#2b2b2b">20</div>
<div class="t" style="left:466px;width:19.5px;text-align:right;top:110.00px;font-size:9.0px;color:#2b2b2b">30</div>
<div class="t" style="left:466px;width:19.5px;text-align:right;top:90.00px;font-size:9.0px;color:#2b2b2b">40</div>
<div class="t" style="left:466px;width:19.5px;text-align:right;top:70.00px;font-size:9.0px;color:#2b2b2b">50</div>
<div class="t" style="left:466px;width:19.5px;text-align:right;top:50.00px;font-size:9.0px;color:#2b2b2b">60</div>
<div class="t" style="left:466.3px;top:113.4px;font-size:9.2px;color:#2b2b2b;transform:translate(-50%,-50%) rotate(-90deg)">RPKM</div>
<div class="t" style="left:500.95px;top:179.6px;font-size:9.0px;color:#222;transform-origin:0 0;transform:rotate(-90deg) translate(-100%,-50%)">Atypical</div>
<div class="t" style="left:514.46px;top:179.6px;font-size:9.0px;color:#222;transform-origin:0 0;transform:rotate(-90deg) translate(-100%,-50%)">Butterhead</div>
<div class="t" style="left:527.97px;top:179.6px;font-size:9.0px;color:#222;transform-origin:0 0;transform:rotate(-90deg) translate(-100%,-50%)">Crisphead</div>
<div class="t" style="left:541.48px;top:179.6px;font-size:9.0px;color:#222;transform-origin:0 0;transform:rotate(-90deg) translate(-100%,-50%)">Intermediate</div>
<div class="t" style="left:554.99px;top:179.6px;font-size:9.0px;color:#222;transform-origin:0 0;transform:rotate(-90deg) translate(-100%,-50%)">Looseleaf</div>
<div class="t" style="left:568.50px;top:179.6px;font-size:9.0px;color:#222;transform-origin:0 0;transform:rotate(-90deg) translate(-100%,-50%)">Oilseed</div>
<div class="t" style="left:582.01px;top:179.6px;font-size:9.0px;color:#222;transform-origin:0 0;transform:rotate(-90deg) translate(-100%,-50%)">Romaine</div>
<div class="t" style="left:595.52px;top:179.6px;font-size:9.0px;color:#222;transform-origin:0 0;transform:rotate(-90deg) translate(-100%,-50%)">Saligna</div>
<div class="t" style="left:609.03px;top:179.6px;font-size:9.0px;color:#222;transform-origin:0 0;transform:rotate(-90deg) translate(-100%,-50%)">Serriola</div>
<div class="t" style="left:622.54px;top:179.6px;font-size:9.0px;color:#222;transform-origin:0 0;transform:rotate(-90deg) translate(-100%,-50%)">Stem</div>
<div class="t" style="left:636.05px;top:179.6px;font-size:9.0px;color:#222;transform-origin:0 0;transform:rotate(-90deg) translate(-100%,-50%)">Virosa</div>
<div class="t" style="left:0.20px;top:247.60px;font-size:13px;color:#0a0a0a;font-weight:bold;">B</div>
<div class="t" style="left:50.50px;top:269.00px;font-size:12.43px;color:#598eae;font-weight:bold;">JBrowse</div>
<div class="t" style="left:0.10px;top:433.00px;font-size:13px;color:#0a0a0a;font-weight:bold;">D</div>
<div class="t" style="left:50.50px;top:461.00px;font-size:12.43px;color:#598eae;font-weight:bold;">Primer design</div>
<div class="t" style="left:37.40px;top:484.00px;font-size:9.45px;color:#111;font-weight:normal;">Gene</div>
<div class="t" style="left:65.10px;width:51.30px;text-align:center;top:485.00px;font-size:9.32px;color:#8c8c8c;font-weight:normal;">LSA36316</div>
<div class="t" style="left:129.70px;top:485.00px;font-size:9.0px;color:#8c8c8c;font-weight:normal;">mRNA</div>
<div class="t" style="left:160.30px;top:485.00px;font-size:9.0px;color:#1a1a1a;font-weight:bold;">v</div>
<div class="t" style="left:176.80px;width:64.90px;text-align:center;top:485.00px;font-size:9.32px;color:#7ab6d7;font-weight:normal;">Get sequence</div>
<div class="t" style="left:41.00px;top:512.00px;font-size:9.5px;color:#111;font-weight:normal;letter-spacing:-0.017px;">ACATTCACCCTCCTAAATTACCTACATAAGAT</div>
<div class="t" style="left:41.00px;top:523.00px;font-size:9.5px;color:#111;font-weight:normal;letter-spacing:-0.015px;">AGTATGCTACTCCATTGGGTCATTAGTACGTA</div>
<div class="t" style="left:41.00px;top:534.00px;font-size:9.5px;color:#111;font-weight:normal;letter-spacing:-0.12px;">AACTTATTAAAAAAGTGGACCCAATTTTGACTT</div>
<div class="t" style="left:41.00px;top:545.00px;font-size:9.5px;color:#111;font-weight:normal;letter-spacing:-0.022px;">TGCAAAAGCAGCATGCAGATTATATATTGAAA</div>
<div class="t" style="left:41.00px;top:556.00px;font-size:9.5px;color:#111;font-weight:normal;letter-spacing:-0.148px;">TTCAACCAATCACTTTCAAAAGCTTTCTAACAA</div>
<div class="t" style="left:41.00px;top:567.00px;font-size:9.5px;color:#111;font-weight:normal;letter-spacing:-0.135px;">AACAAATAAACCATAAACTCACTCACTCCTCT</div>
<div class="t" style="left:41.00px;top:578.00px;font-size:9.5px;color:#111;font-weight:normal;letter-spacing:-0.072px;">TGTTACATCTTCTTCATTGACACACAGATAAC</div>
<div class="t" style="left:37.10px;width:85.40px;text-align:center;top:604.40px;font-size:9.32px;color:#7ab6d7;font-weight:normal;">Download Settings</div>
<div class="t" style="left:127.00px;width:61.00px;text-align:center;top:604.40px;font-size:9.32px;color:#7ab6d7;font-weight:normal;">Reset Form</div>
<div class="t" style="left:36.30px;width:66.10px;text-align:center;top:631.00px;font-size:9.32px;color:#fff;font-weight:normal;">Pick Primers</div>
<div class="t" style="left:36.30px;width:127.70px;text-align:center;top:664.00px;font-size:9.32px;color:#555;font-weight:normal;">Show Advanced Parameters</div>
<div class="t" style="left:258.20px;top:433.00px;font-size:13px;color:#0a0a0a;font-weight:bold;">E</div>
<div class="t" style="left:303.90px;top:469.00px;font-size:12.43px;color:#598eae;font-weight:bold;">Literature</div>
<div class="t" style="left:258.20px;top:506.00px;font-size:13px;color:#0a0a0a;font-weight:bold;">F</div>
<div class="t" style="left:306.00px;top:521.00px;font-size:12.43px;color:#598eae;font-weight:bold;">Data</div>
<div class="t" style="left:281.30px;top:548.00px;font-size:12.43px;color:#111;font-weight:bold;">Index of /download</div>
<div class="t" style="left:301.90px;top:572.00px;font-size:12.43px;color:#72b2d6;font-weight:normal;">Genome/</div>
<div class="t" style="left:301.90px;top:587.00px;font-size:12.43px;color:#72b2d6;font-weight:normal;">Germplasm/</div>
<div class="t" style="left:301.90px;top:602.00px;font-size:12.43px;color:#72b2d6;font-weight:normal;">Phenotype/</div>
<div class="t" style="left:301.90px;top:616.00px;font-size:12.43px;color:#72b2d6;font-weight:normal;">RNA-Seq/</div>
<div class="t" style="left:301.90px;top:631.00px;font-size:12.43px;color:#72b2d6;font-weight:normal;">ATAC-Seq/</div>
<div class="t" style="left:301.90px;top:646.00px;font-size:12.43px;color:#72b2d6;font-weight:normal;">miRNA-Seq/</div>
<div class="t" style="left:403.10px;top:433.00px;font-size:13px;color:#0a0a0a;font-weight:bold;">G</div>
<div class="t" style="left:448.30px;top:461.00px;font-size:12.43px;color:#598eae;font-weight:bold;">LettuceGDB Community</div>
<div class="t" style="left:450.10px;top:487.00px;font-size:12.43px;color:#111;font-weight:bold;">Forum</div>
<div class="t" style="left:450.10px;top:507.00px;font-size:12.43px;color:#111;font-weight:bold;">Latest research</div>
<div class="t" style="left:481.80px;top:532.00px;font-size:12.43px;color:#111;font-weight:normal;">Downy Mildew in Lettuce</div>
<div class="t" style="left:481.80px;top:551.00px;font-size:12.43px;color:#111;font-weight:normal;">Verticillium wilt in Lettuce</div>
<div class="t" style="left:481.80px;top:571.00px;font-size:12.43px;color:#111;font-weight:normal;">Lettuce seed germination</div>
<div class="t" style="left:481.80px;top:590.00px;font-size:12.43px;color:#111;font-weight:normal;">Heading in vegetable crops</div>
<div class="t" style="left:481.80px;top:609.00px;font-size:12.43px;color:#111;font-weight:normal;">Genome and transcriptome</div>
<div class="t" style="left:481.80px;top:624.00px;font-size:12.43px;color:#111;font-weight:normal;">of Lettuce</div>
<div class="t" style="left:481.80px;top:644.00px;font-size:12.43px;color:#111;font-weight:normal;">Research progress on</div>
<div class="t" style="left:481.80px;top:659.00px;font-size:12.43px;color:#111;font-weight:normal;">Metabolites of lettuce</div>
</div>
</body></html>
